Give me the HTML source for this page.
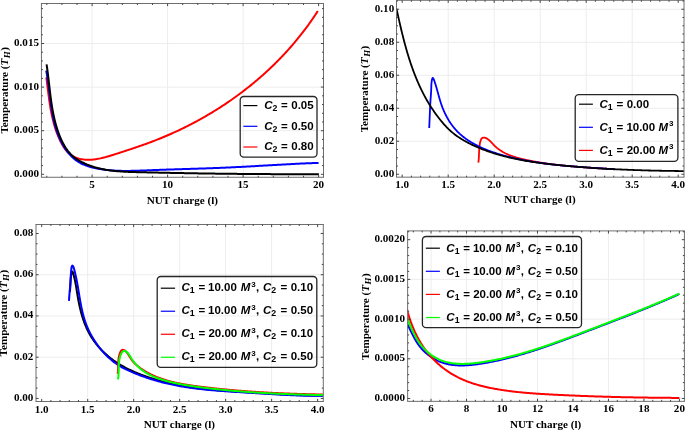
<!DOCTYPE html>
<html><head><meta charset="utf-8"><style>
html,body{margin:0;padding:0;background:#fff;}
svg{display:block;will-change:transform;}
text{font-family:"Liberation Serif", serif;font-weight:bold;fill:#000;}
text.lg{font-family:"Liberation Sans", sans-serif;font-size:11.5px;}
</style></head><body>
<svg width="685" height="430" viewBox="0 0 685 430">
<rect width="685" height="430" fill="#fff"/>
<clipPath id="c1"><rect x="41.45" y="3.50" width="282.05" height="173.77"/></clipPath>
<path d="M92.10,3.50V177.27M167.60,3.50V177.27M243.10,3.50V177.27M41.45,130.71H323.50M41.45,87.10H323.50M41.45,43.49H323.50" stroke="#ededed" stroke-width="1" fill="none"/>
<g clip-path="url(#c1)" fill="none" stroke-linejoin="round" stroke-linecap="butt">
<path d="M46.33,77.41 L46.50,78.68 L46.67,79.95 L46.83,81.22 L46.99,82.49 L47.15,83.76 L47.31,85.03 L47.46,86.30 L47.62,87.58 L47.77,88.85 L47.93,90.12 L48.09,91.39 L48.25,92.66 L48.41,93.93 L48.57,95.20 L48.74,96.47 L48.91,97.74 L49.08,99.01 L49.26,100.27 L49.44,101.54 L49.63,102.80 L49.82,104.06 L50.02,105.33 L50.22,106.59 L50.43,107.85 L50.65,109.10 L50.88,110.36 L51.11,111.61 L51.35,112.87 L51.60,114.12 L51.87,115.36 L52.14,116.61 L52.42,117.86 L52.71,119.10 L53.01,120.34 L53.33,121.58 L53.65,122.81 L53.99,124.04 L54.34,125.27 L54.71,126.50 L55.09,127.72 L55.48,128.94 L55.89,130.16 L56.32,131.38 L56.76,132.59 L57.21,133.80 L57.68,135.00 L58.17,136.21 L58.68,137.41 L59.20,138.60 L59.75,139.79 L60.31,140.98 L60.89,142.15 L61.50,143.32 L62.13,144.46 L62.78,145.59 L63.46,146.69 L64.17,147.77 L64.91,148.82 L65.68,149.84 L66.49,150.82 L67.32,151.75 L68.20,152.65 L69.11,153.50 L70.06,154.29 L71.05,155.04 L72.08,155.72 L73.15,156.35 L74.26,156.92 L75.42,157.42 L76.60,157.87 L77.81,158.27 L79.04,158.61 L80.28,158.91 L81.54,159.15 L82.81,159.36 L84.08,159.51 L85.35,159.63 L86.62,159.70 L87.89,159.74 L89.15,159.74 L90.42,159.71 L91.68,159.64 L92.94,159.54 L94.20,159.41 L95.46,159.25 L96.71,159.07 L97.97,158.86 L99.22,158.62 L100.48,158.36 L101.73,158.09 L102.98,157.79 L104.22,157.48 L105.47,157.15 L106.72,156.80 L107.96,156.45 L109.20,156.08 L110.44,155.70 L111.68,155.32 L112.92,154.93 L114.16,154.53 L115.39,154.13 L116.62,153.73 L117.86,153.33 L119.09,152.94 L120.32,152.54 L121.54,152.14 L122.77,151.74 L123.99,151.34 L125.22,150.94 L126.44,150.54 L127.66,150.14 L128.88,149.74 L130.10,149.34 L131.31,148.94 L132.53,148.53 L133.74,148.12 L134.95,147.72 L136.16,147.31 L137.37,146.90 L138.58,146.48 L139.78,146.07 L140.99,145.65 L142.19,145.23 L143.39,144.80 L144.60,144.37 L145.79,143.94 L146.99,143.51 L148.19,143.07 L149.38,142.63 L150.58,142.19 L151.77,141.74 L152.96,141.29 L154.15,140.83 L155.34,140.37 L156.53,139.91 L157.71,139.44 L158.90,138.96 L160.08,138.49 L161.26,138.00 L162.44,137.52 L163.62,137.03 L164.80,136.53 L165.97,136.04 L167.15,135.53 L168.32,135.03 L169.49,134.52 L170.66,134.00 L171.83,133.48 L172.99,132.96 L174.16,132.43 L175.32,131.90 L176.48,131.37 L177.64,130.83 L178.80,130.28 L179.95,129.73 L181.11,129.18 L182.26,128.63 L183.41,128.07 L184.56,127.50 L185.70,126.94 L186.85,126.36 L187.99,125.79 L189.13,125.21 L190.27,124.62 L191.41,124.04 L192.54,123.44 L193.67,122.85 L194.80,122.25 L195.93,121.64 L197.06,121.04 L198.18,120.42 L199.31,119.81 L200.43,119.19 L201.54,118.56 L202.66,117.94 L203.77,117.30 L204.88,116.67 L205.99,116.03 L207.10,115.38 L208.21,114.74 L209.31,114.08 L210.41,113.43 L211.51,112.77 L212.60,112.11 L213.69,111.44 L214.79,110.77 L215.87,110.09 L216.96,109.41 L218.04,108.73 L219.12,108.04 L220.20,107.35 L221.28,106.66 L222.35,105.96 L223.42,105.26 L224.49,104.55 L225.56,103.84 L226.62,103.13 L227.68,102.41 L228.74,101.69 L229.79,100.96 L230.85,100.23 L231.90,99.50 L232.94,98.76 L233.99,98.02 L235.03,97.27 L236.07,96.53 L237.11,95.77 L238.14,95.02 L239.17,94.26 L240.20,93.49 L241.22,92.73 L242.24,91.96 L243.26,91.18 L244.28,90.40 L245.29,89.62 L246.30,88.83 L247.31,88.04 L248.31,87.25 L249.31,86.45 L250.31,85.65 L251.31,84.85 L252.30,84.04 L253.29,83.22 L254.27,82.41 L255.26,81.59 L256.23,80.76 L257.21,79.94 L258.18,79.11 L259.15,78.27 L260.12,77.43 L261.08,76.59 L262.04,75.74 L263.00,74.90 L263.95,74.04 L264.90,73.19 L265.85,72.33 L266.79,71.46 L267.73,70.59 L268.67,69.72 L269.60,68.85 L270.53,67.97 L271.46,67.09 L272.38,66.20 L273.30,65.31 L274.21,64.42 L275.12,63.52 L276.03,62.62 L276.94,61.72 L277.84,60.81 L278.73,59.90 L279.63,58.98 L280.52,58.07 L281.40,57.14 L282.29,56.22 L283.17,55.29 L284.04,54.36 L284.91,53.42 L285.78,52.48 L286.64,51.54 L287.50,50.59 L288.36,49.64 L289.21,48.69 L290.06,47.73 L290.90,46.77 L291.74,45.81 L292.58,44.84 L293.41,43.87 L294.24,42.89 L295.06,41.92 L295.88,40.94 L296.70,39.95 L297.51,38.96 L298.32,37.97 L299.12,36.97 L299.92,35.98 L300.72,34.97 L301.51,33.97 L302.30,32.96 L303.08,31.95 L303.86,30.93 L304.63,29.91 L305.40,28.89 L306.17,27.86 L306.93,26.83 L307.69,25.80 L308.44,24.76 L309.19,23.72 L309.94,22.68 L310.67,21.63 L311.41,20.58 L312.14,19.53 L312.87,18.47 L313.59,17.41 L314.31,16.35 L315.02,15.28 L315.73,14.21 L316.43,13.14 L317.13,12.06 L317.83,10.98" stroke="#ff0000" stroke-width="2.0"/>
<path d="M46.22,70.65 L46.42,71.74 L46.62,72.83 L46.81,73.93 L46.99,75.03 L47.17,76.13 L47.35,77.24 L47.52,78.35 L47.68,79.46 L47.84,80.58 L48.00,81.70 L48.15,82.82 L48.30,83.94 L48.45,85.07 L48.59,86.20 L48.74,87.33 L48.88,88.47 L49.02,89.60 L49.16,90.74 L49.30,91.88 L49.44,93.02 L49.58,94.16 L49.73,95.30 L49.87,96.44 L50.01,97.58 L50.16,98.73 L50.31,99.87 L50.46,101.01 L50.61,102.16 L50.77,103.30 L50.93,104.44 L51.10,105.59 L51.26,106.73 L51.44,107.87 L51.62,109.01 L51.81,110.15 L52.00,111.28 L52.20,112.42 L52.40,113.55 L52.61,114.68 L52.83,115.81 L53.06,116.94 L53.30,118.07 L53.54,119.19 L53.79,120.31 L54.06,121.43 L54.33,122.54 L54.61,123.65 L54.91,124.76 L55.21,125.86 L55.53,126.96 L55.85,128.06 L56.19,129.15 L56.54,130.24 L56.91,131.32 L57.29,132.40 L57.68,133.48 L58.08,134.55 L58.50,135.61 L58.94,136.67 L59.39,137.72 L59.85,138.77 L60.33,139.82 L60.83,140.85 L61.34,141.88 L61.87,142.91 L62.42,143.92 L62.98,144.93 L63.56,145.92 L64.16,146.91 L64.77,147.88 L65.40,148.84 L66.05,149.78 L66.72,150.71 L67.41,151.63 L68.11,152.52 L68.83,153.40 L69.57,154.26 L70.33,155.10 L71.10,155.92 L71.90,156.71 L72.71,157.49 L73.54,158.24 L74.39,158.96 L75.26,159.66 L76.15,160.33 L77.06,160.97 L77.98,161.58 L78.93,162.17 L79.89,162.73 L80.88,163.25 L81.88,163.76 L82.89,164.23 L83.92,164.68 L84.96,165.11 L86.01,165.52 L87.08,165.90 L88.16,166.26 L89.24,166.60 L90.34,166.92 L91.44,167.23 L92.55,167.51 L93.67,167.78 L94.79,168.04 L95.92,168.28 L97.04,168.50 L98.17,168.71 L99.30,168.92 L100.44,169.10 L101.57,169.28 L102.70,169.45 L103.84,169.61 L104.98,169.75 L106.11,169.89 L107.25,170.01 L108.39,170.13 L109.53,170.24 L110.67,170.34 L111.81,170.42 L112.95,170.50 L114.10,170.58 L115.24,170.64 L116.38,170.70 L117.53,170.75 L118.67,170.79 L119.82,170.82 L120.96,170.85 L122.11,170.88 L123.26,170.89 L124.40,170.90 L125.55,170.91 L126.70,170.91 L127.85,170.90 L129.00,170.89 L130.14,170.88 L131.29,170.86 L132.44,170.84 L133.59,170.81 L134.74,170.78 L135.89,170.75 L137.04,170.72 L138.19,170.68 L139.34,170.64 L140.49,170.60 L141.64,170.56 L142.78,170.51 L143.93,170.47 L145.08,170.42 L146.23,170.38 L147.38,170.33 L148.53,170.28 L149.67,170.24 L150.82,170.19 L151.97,170.15 L153.11,170.10 L154.26,170.06 L155.41,170.02 L156.55,169.97 L157.70,169.93 L158.84,169.89 L159.99,169.85 L161.13,169.81 L162.27,169.77 L163.42,169.73 L164.56,169.69 L165.70,169.65 L166.85,169.62 L167.99,169.58 L169.13,169.54 L170.27,169.50 L171.42,169.47 L172.56,169.43 L173.70,169.39 L174.84,169.36 L175.98,169.32 L177.12,169.29 L178.26,169.25 L179.40,169.22 L180.54,169.18 L181.68,169.14 L182.82,169.11 L183.96,169.07 L185.10,169.04 L186.24,169.00 L187.38,168.97 L188.52,168.93 L189.66,168.90 L190.80,168.86 L191.94,168.83 L193.08,168.79 L194.22,168.76 L195.36,168.72 L196.49,168.68 L197.63,168.65 L198.77,168.61 L199.91,168.57 L201.05,168.54 L202.19,168.50 L203.33,168.46 L204.46,168.42 L205.60,168.38 L206.74,168.35 L207.88,168.31 L209.02,168.27 L210.16,168.23 L211.30,168.18 L212.44,168.14 L213.57,168.10 L214.71,168.06 L215.85,168.01 L216.99,167.97 L218.13,167.93 L219.27,167.88 L220.41,167.83 L221.55,167.79 L222.69,167.74 L223.83,167.69 L224.97,167.64 L226.11,167.59 L227.25,167.54 L228.39,167.49 L229.53,167.44 L230.67,167.39 L231.81,167.33 L232.95,167.28 L234.09,167.22 L235.24,167.17 L236.38,167.11 L237.52,167.05 L238.66,166.99 L239.80,166.94 L240.95,166.88 L242.09,166.82 L243.23,166.76 L244.37,166.69 L245.51,166.63 L246.66,166.57 L247.80,166.51 L248.94,166.45 L250.08,166.38 L251.23,166.32 L252.37,166.26 L253.51,166.19 L254.66,166.13 L255.80,166.06 L256.94,166.00 L258.09,165.93 L259.23,165.87 L260.37,165.80 L261.52,165.74 L262.66,165.67 L263.80,165.60 L264.94,165.54 L266.09,165.47 L267.23,165.41 L268.37,165.34 L269.52,165.28 L270.66,165.21 L271.80,165.14 L272.95,165.08 L274.09,165.01 L275.23,164.95 L276.38,164.88 L277.52,164.82 L278.66,164.76 L279.80,164.69 L280.95,164.63 L282.09,164.57 L283.23,164.50 L284.37,164.44 L285.52,164.38 L286.66,164.32 L287.80,164.26 L288.94,164.20 L290.09,164.14 L291.23,164.08 L292.37,164.02 L293.51,163.96 L294.65,163.90 L295.79,163.84 L296.93,163.79 L298.08,163.73 L299.22,163.68 L300.36,163.62 L301.50,163.57 L302.64,163.52 L303.78,163.47 L304.92,163.42 L306.06,163.37 L307.20,163.32 L308.34,163.27 L309.48,163.22 L310.62,163.18 L311.75,163.13 L312.89,163.09 L314.03,163.05 L315.17,163.01 L316.31,162.97 L317.44,162.93 L318.58,162.89" stroke="#0000ff" stroke-width="2.0"/>
<path d="M46.58,64.43 L46.75,65.57 L46.92,66.71 L47.09,67.85 L47.25,69.00 L47.41,70.14 L47.56,71.29 L47.71,72.44 L47.86,73.59 L48.00,74.73 L48.14,75.88 L48.28,77.03 L48.42,78.18 L48.55,79.33 L48.69,80.49 L48.82,81.64 L48.95,82.79 L49.08,83.94 L49.22,85.09 L49.35,86.25 L49.48,87.40 L49.61,88.55 L49.75,89.70 L49.88,90.85 L50.02,92.01 L50.15,93.16 L50.29,94.31 L50.44,95.46 L50.58,96.61 L50.73,97.76 L50.88,98.91 L51.04,100.06 L51.20,101.21 L51.36,102.35 L51.53,103.50 L51.70,104.64 L51.88,105.79 L52.07,106.93 L52.26,108.07 L52.45,109.21 L52.65,110.35 L52.86,111.49 L53.08,112.63 L53.30,113.76 L53.53,114.90 L53.77,116.03 L54.01,117.16 L54.27,118.29 L54.53,119.42 L54.80,120.54 L55.09,121.67 L55.38,122.79 L55.68,123.91 L55.99,125.03 L56.31,126.14 L56.64,127.26 L56.99,128.37 L57.34,129.48 L57.71,130.58 L58.09,131.69 L58.48,132.79 L58.88,133.89 L59.30,134.99 L59.73,136.08 L60.17,137.17 L60.63,138.25 L61.11,139.33 L61.60,140.39 L62.10,141.45 L62.63,142.50 L63.17,143.54 L63.73,144.56 L64.30,145.57 L64.90,146.57 L65.52,147.55 L66.16,148.51 L66.82,149.46 L67.50,150.38 L68.21,151.29 L68.94,152.17 L69.69,153.04 L70.46,153.88 L71.26,154.69 L72.09,155.48 L72.94,156.24 L73.82,156.98 L74.73,157.69 L75.65,158.38 L76.60,159.03 L77.56,159.67 L78.55,160.28 L79.54,160.87 L80.55,161.44 L81.58,161.99 L82.61,162.51 L83.65,163.02 L84.69,163.51 L85.75,163.97 L86.80,164.43 L87.86,164.86 L88.93,165.28 L90.01,165.68 L91.08,166.06 L92.17,166.43 L93.25,166.78 L94.34,167.11 L95.44,167.43 L96.54,167.74 L97.65,168.03 L98.75,168.31 L99.87,168.57 L100.98,168.83 L102.10,169.06 L103.23,169.29 L104.35,169.51 L105.48,169.71 L106.62,169.90 L107.76,170.08 L108.89,170.25 L110.04,170.41 L111.18,170.56 L112.33,170.70 L113.48,170.83 L114.63,170.96 L115.79,171.07 L116.95,171.18 L118.10,171.28 L119.26,171.37 L120.43,171.45 L121.59,171.53 L122.76,171.61 L123.92,171.67 L125.09,171.73 L126.26,171.79 L127.43,171.84 L128.60,171.89 L129.77,171.94 L130.94,171.98 L132.12,172.02 L133.29,172.05 L134.46,172.09 L135.64,172.12 L136.81,172.15 L137.98,172.18 L139.16,172.20 L140.33,172.23 L141.50,172.26 L142.67,172.28 L143.84,172.31 L145.01,172.34 L146.18,172.36 L147.35,172.39 L148.52,172.42 L149.69,172.44 L150.86,172.47 L152.02,172.49 L153.19,172.52 L154.36,172.55 L155.52,172.57 L156.69,172.60 L157.86,172.62 L159.02,172.64 L160.19,172.67 L161.35,172.69 L162.51,172.72 L163.68,172.74 L164.84,172.77 L166.00,172.79 L167.17,172.81 L168.33,172.84 L169.49,172.86 L170.65,172.88 L171.81,172.90 L172.97,172.93 L174.13,172.95 L175.29,172.97 L176.45,172.99 L177.61,173.01 L178.77,173.04 L179.93,173.06 L181.09,173.08 L182.25,173.10 L183.41,173.12 L184.57,173.14 L185.72,173.16 L186.88,173.18 L188.04,173.20 L189.19,173.22 L190.35,173.24 L191.51,173.26 L192.66,173.28 L193.82,173.30 L194.98,173.32 L196.13,173.34 L197.29,173.36 L198.44,173.38 L199.60,173.39 L200.75,173.41 L201.91,173.43 L203.06,173.45 L204.22,173.47 L205.37,173.48 L206.53,173.50 L207.68,173.52 L208.83,173.53 L209.99,173.55 L211.14,173.57 L212.30,173.58 L213.45,173.60 L214.60,173.61 L215.76,173.63 L216.91,173.64 L218.06,173.66 L219.22,173.67 L220.37,173.69 L221.52,173.70 L222.68,173.72 L223.83,173.73 L224.98,173.75 L226.13,173.76 L227.29,173.77 L228.44,173.79 L229.59,173.80 L230.75,173.81 L231.90,173.83 L233.05,173.84 L234.21,173.85 L235.36,173.86 L236.51,173.87 L237.66,173.89 L238.82,173.90 L239.97,173.91 L241.12,173.92 L242.28,173.93 L243.43,173.94 L244.58,173.95 L245.74,173.96 L246.89,173.97 L248.05,173.98 L249.20,173.99 L250.35,174.00 L251.51,174.01 L252.66,174.02 L253.82,174.03 L254.97,174.04 L256.12,174.04 L257.28,174.05 L258.43,174.06 L259.59,174.07 L260.74,174.07 L261.90,174.08 L263.06,174.09 L264.21,174.09 L265.37,174.10 L266.52,174.11 L267.68,174.11 L268.84,174.12 L269.99,174.12 L271.15,174.13 L272.31,174.13 L273.47,174.14 L274.62,174.14 L275.78,174.15 L276.94,174.15 L278.10,174.16 L279.26,174.16 L280.42,174.16 L281.58,174.17 L282.74,174.17 L283.90,174.17 L285.06,174.18 L286.22,174.18 L287.38,174.18 L288.54,174.18 L289.70,174.18 L290.86,174.18 L292.02,174.19 L293.19,174.19 L294.35,174.19 L295.51,174.19 L296.68,174.19 L297.84,174.19 L299.01,174.19 L300.17,174.19 L301.34,174.19 L302.50,174.19 L303.67,174.18 L304.83,174.18 L306.00,174.18 L307.17,174.18 L308.34,174.18 L309.51,174.17 L310.67,174.17 L311.84,174.17 L313.01,174.17 L314.18,174.16 L315.35,174.16 L316.52,174.15 L317.70,174.15 L318.87,174.15" stroke="#000" stroke-width="2.0"/>
</g>
<path d="M40.95,3.50H324.00M40.95,177.27H324.00M41.45,3.50V177.27M323.50,3.50V177.27" stroke="#6e6e6e" stroke-width="1.0" fill="none"/>
<path d="M92.10,177.27v-2.60M92.10,3.50v2.60M167.60,177.27v-2.60M167.60,3.50v2.60M243.10,177.27v-2.60M243.10,3.50v2.60M318.60,177.27v-2.60M318.60,3.50v2.60M46.80,177.27v-1.50M46.80,3.50v1.50M61.90,177.27v-1.50M61.90,3.50v1.50M77.00,177.27v-1.50M77.00,3.50v1.50M107.20,177.27v-1.50M107.20,3.50v1.50M122.30,177.27v-1.50M122.30,3.50v1.50M137.40,177.27v-1.50M137.40,3.50v1.50M152.50,177.27v-1.50M152.50,3.50v1.50M182.70,177.27v-1.50M182.70,3.50v1.50M197.80,177.27v-1.50M197.80,3.50v1.50M212.90,177.27v-1.50M212.90,3.50v1.50M228.00,177.27v-1.50M228.00,3.50v1.50M258.20,177.27v-1.50M258.20,3.50v1.50M273.30,177.27v-1.50M273.30,3.50v1.50M288.40,177.27v-1.50M288.40,3.50v1.50M303.50,177.27v-1.50M303.50,3.50v1.50M41.45,174.32h2.60M323.50,174.32h-2.60M41.45,130.71h2.60M323.50,130.71h-2.60M41.45,87.10h2.60M323.50,87.10h-2.60M41.45,43.49h2.60M323.50,43.49h-2.60M41.45,165.60h1.50M323.50,165.60h-1.50M41.45,156.88h1.50M323.50,156.88h-1.50M41.45,148.15h1.50M323.50,148.15h-1.50M41.45,139.43h1.50M323.50,139.43h-1.50M41.45,121.99h1.50M323.50,121.99h-1.50M41.45,113.27h1.50M323.50,113.27h-1.50M41.45,104.54h1.50M323.50,104.54h-1.50M41.45,95.82h1.50M323.50,95.82h-1.50M41.45,78.38h1.50M323.50,78.38h-1.50M41.45,69.66h1.50M323.50,69.66h-1.50M41.45,60.93h1.50M323.50,60.93h-1.50M41.45,52.21h1.50M323.50,52.21h-1.50M41.45,34.77h1.50M323.50,34.77h-1.50M41.45,26.05h1.50M323.50,26.05h-1.50M41.45,17.32h1.50M323.50,17.32h-1.50M41.45,8.60h1.50M323.50,8.60h-1.50" stroke="#333" stroke-width="0.9" fill="none"/>
<text x="92.10" y="187.70" text-anchor="middle" font-size="11.1">5</text>
<text x="167.60" y="187.70" text-anchor="middle" font-size="11.1">10</text>
<text x="243.10" y="187.70" text-anchor="middle" font-size="11.1">15</text>
<text x="318.60" y="187.70" text-anchor="middle" font-size="11.1">20</text>
<text x="39.00" y="176.77" text-anchor="end" font-size="11.1">0.000</text>
<text x="39.00" y="133.16" text-anchor="end" font-size="11.1">0.005</text>
<text x="39.00" y="89.55" text-anchor="end" font-size="11.1">0.010</text>
<text x="39.00" y="45.94" text-anchor="end" font-size="11.1">0.015</text>
<text x="182.35" y="203.60" text-anchor="middle" font-size="11.1">NUT charge (l)</text>
<text transform="translate(7.60,90.30) rotate(-90)" text-anchor="middle" font-size="11.1">Temperature (<tspan font-style="italic">T</tspan><tspan font-style="italic" font-size="8.9" dx="0.6" dy="2.2">H</tspan><tspan dx="0.5" dy="-2.2">)</tspan></text>
<rect x="240.20" y="96.50" width="76.80" height="60.60" rx="3.6" ry="3.6" fill="none" stroke="#262626" stroke-width="1.3"/>
<line x1="243.40" y1="105.60" x2="257.40" y2="105.60" stroke="#000" stroke-width="1.2"/>
<text class="lg" y="108.90"><tspan x="264.14" font-style="italic">C</tspan><tspan x="272.44" font-size="8.80" dy="2.00">2</tspan><tspan x="281.12" dy="-2.00">=</tspan><tspan x="291.25">0.05</tspan></text>
<line x1="243.40" y1="126.30" x2="257.40" y2="126.30" stroke="#0000ff" stroke-width="1.2"/>
<text class="lg" y="129.60"><tspan x="264.14" font-style="italic">C</tspan><tspan x="272.44" font-size="8.80" dy="2.00">2</tspan><tspan x="281.12" dy="-2.00">=</tspan><tspan x="291.25">0.50</tspan></text>
<line x1="243.40" y1="147.00" x2="257.40" y2="147.00" stroke="#ff0000" stroke-width="1.2"/>
<text class="lg" y="150.30"><tspan x="264.14" font-style="italic">C</tspan><tspan x="272.44" font-size="8.80" dy="2.00">2</tspan><tspan x="281.12" dy="-2.00">=</tspan><tspan x="291.25">0.80</tspan></text>
<clipPath id="c2"><rect x="396.50" y="0.30" width="287.50" height="176.86"/></clipPath>
<path d="M448.20,0.30V177.16M494.20,0.30V177.16M540.20,0.30V177.16M586.20,0.30V177.16M632.20,0.30V177.16M396.50,141.26H684.00M396.50,108.26H684.00M396.50,75.26H684.00M396.50,42.26H684.00M396.50,9.26H684.00" stroke="#ededed" stroke-width="1" fill="none"/>
<g clip-path="url(#c2)" fill="none" stroke-linejoin="round" stroke-linecap="butt">
<path d="M478.37,162.61 L478.45,162.01 L478.52,161.42 L478.58,160.84 L478.64,160.26 L478.69,159.70 L478.74,159.14 L478.78,158.59 L478.81,158.04 L478.84,157.50 L478.87,156.97 L478.90,156.44 L478.92,155.91 L478.94,155.38 L478.96,154.86 L478.98,154.33 L479.00,153.81 L479.02,153.29 L479.04,152.76 L479.06,152.24 L479.09,151.71 L479.11,151.18 L479.14,150.64 L479.17,150.10 L479.21,149.56 L479.25,149.01 L479.29,148.45 L479.34,147.89 L479.39,147.32 L479.45,146.74 L479.52,146.15 L479.60,145.55 L479.68,144.94 L479.77,144.32 L479.87,143.69 L479.99,143.07 L480.11,142.45 L480.26,141.84 L480.41,141.25 L480.59,140.69 L480.78,140.15 L481.00,139.65 L481.24,139.19 L481.51,138.78 L481.80,138.41 L482.11,138.11 L482.46,137.87 L482.84,137.69 L483.25,137.59 L483.68,137.56 L484.14,137.58 L484.61,137.65 L485.08,137.78 L485.57,137.94 L486.05,138.15 L486.53,138.38 L487.00,138.64 L487.45,138.93 L487.90,139.23 L488.34,139.56 L488.77,139.90 L489.19,140.26 L489.61,140.64 L490.02,141.02 L490.43,141.42 L490.83,141.83 L491.23,142.24 L491.63,142.66 L492.02,143.08 L492.42,143.51 L492.82,143.93 L493.21,144.35 L493.61,144.77 L494.02,145.19 L494.42,145.59 L494.83,145.99 L495.25,146.38 L495.66,146.76 L496.09,147.14 L496.51,147.51 L496.94,147.87 L497.38,148.22 L497.81,148.57 L498.25,148.91 L498.70,149.24 L499.15,149.57 L499.60,149.89 L500.05,150.20 L500.51,150.51 L500.97,150.81 L501.43,151.10 L501.90,151.39 L502.37,151.67 L502.85,151.95 L503.32,152.22 L503.80,152.48 L504.28,152.74 L504.77,153.00 L505.25,153.24 L505.74,153.49 L506.24,153.72 L506.73,153.96 L507.23,154.18 L507.73,154.41 L508.23,154.62 L508.73,154.84 L509.24,155.04 L509.75,155.25 L510.26,155.45 L510.77,155.64 L511.29,155.83 L511.80,156.02 L512.32,156.20 L512.84,156.38 L513.36,156.56 L513.88,156.73 L514.41,156.90 L514.93,157.06 L515.46,157.22 L515.99,157.38 L516.52,157.54 L517.05,157.69 L517.59,157.84 L518.12,157.98 L518.65,158.13 L519.19,158.27 L519.73,158.41 L520.26,158.54 L520.80,158.67 L521.34,158.81 L521.88,158.94 L522.42,159.06 L522.96,159.19 L523.50,159.31 L524.05,159.43 L524.59,159.55 L525.13,159.67 L525.68,159.79 L526.22,159.91 L526.76,160.02 L527.31,160.13 L527.85,160.25 L528.39,160.36 L528.94,160.47 L529.48,160.58 L530.02,160.69 L530.57,160.79 L531.11,160.90 L531.66,161.00 L532.20,161.11 L532.75,161.21 L533.29,161.31 L533.84,161.41 L534.38,161.51 L534.93,161.61 L535.47,161.71 L536.02,161.81 L536.56,161.90 L537.11,162.00 L537.65,162.09 L538.20,162.18 L538.75,162.27 L539.29,162.37 L539.84,162.46 L540.39,162.54 L540.93,162.63 L541.48,162.72 L542.02,162.80 L542.57,162.89 L543.12,162.97 L543.67,163.06 L544.21,163.14 L544.76,163.22 L545.31,163.30 L545.85,163.38 L546.40,163.46 L546.95,163.54 L547.50,163.62 L548.04,163.69 L548.59,163.77 L549.14,163.84 L549.69,163.92 L550.24,163.99 L550.78,164.06 L551.33,164.13 L551.88,164.20 L552.43,164.28 L552.98,164.34 L553.52,164.41 L554.07,164.48 L554.62,164.55 L555.17,164.61 L555.72,164.68 L556.27,164.74 L556.82,164.81 L557.37,164.87 L557.92,164.94 L558.46,165.00 L559.01,165.06 L559.56,165.12 L560.11,165.18 L560.66,165.24 L561.21,165.30 L561.76,165.36 L562.31,165.41 L562.86,165.47 L563.41,165.53 L563.96,165.58 L564.51,165.64 L565.06,165.69 L565.61,165.75 L566.16,165.80 L566.71,165.85 L567.26,165.91 L567.81,165.96 L568.36,166.01 L568.91,166.06 L569.46,166.11 L570.01,166.16 L570.56,166.21 L571.11,166.26 L571.67,166.31 L572.22,166.36 L572.77,166.40 L573.32,166.45 L573.87,166.50 L574.42,166.54 L574.97,166.59 L575.52,166.63 L576.07,166.68 L576.62,166.72 L577.17,166.77 L577.73,166.81 L578.28,166.85 L578.83,166.90 L579.38,166.94 L579.93,166.98 L580.48,167.02 L581.03,167.07 L581.58,167.11 L582.14,167.15 L582.69,167.19 L583.24,167.23 L583.79,167.27 L584.34,167.31 L584.89,167.35 L585.45,167.39 L586.00,167.43 L586.55,167.46 L587.10,167.50 L587.65,167.54 L588.20,167.58 L588.76,167.62 L589.31,167.65 L589.86,167.69 L590.41,167.73 L590.96,167.76 L591.52,167.80 L592.07,167.84 L592.62,167.87 L593.17,167.91 L593.72,167.95 L594.27,167.98 L594.83,168.02 L595.38,168.05 L595.93,168.09 L596.48,168.12 L597.03,168.16 L597.59,168.19 L598.14,168.23 L598.69,168.26 L599.24,168.30 L599.79,168.33 L600.35,168.37 L600.90,168.40 L601.45,168.44 L602.00,168.47 L602.55,168.51 L603.11,168.54 L603.66,168.58 L604.21,168.61 L604.76,168.65 L605.31,168.68 L605.87,168.72 L606.42,168.75 L606.97,168.79 L607.52,168.82 L608.07,168.86 L608.63,168.89 L609.18,168.93 L609.73,168.96 L610.28,169.00 L610.83,169.03 L611.39,169.07 L611.94,169.10 L612.49,169.14 L613.04,169.17 L613.59,169.21 L614.14,169.25 L614.70,169.28" stroke="#ff0000" stroke-width="1.8"/>
<path d="M429.19,128.00 L429.24,127.09 L429.29,126.17 L429.33,125.26 L429.38,124.34 L429.42,123.42 L429.46,122.50 L429.50,121.58 L429.54,120.65 L429.58,119.72 L429.61,118.80 L429.65,117.87 L429.69,116.94 L429.73,116.01 L429.76,115.08 L429.80,114.14 L429.84,113.21 L429.88,112.28 L429.91,111.35 L429.95,110.42 L430.00,109.49 L430.04,108.57 L430.08,107.64 L430.13,106.72 L430.17,105.79 L430.22,104.87 L430.27,103.95 L430.33,103.04 L430.38,102.12 L430.44,101.21 L430.50,100.30 L430.56,99.40 L430.63,98.49 L430.70,97.59 L430.77,96.69 L430.83,95.79 L430.90,94.88 L430.96,93.97 L431.02,93.06 L431.08,92.14 L431.13,91.21 L431.17,90.27 L431.21,89.33 L431.24,88.37 L431.27,87.41 L431.30,86.43 L431.34,85.45 L431.39,84.47 L431.46,83.49 L431.55,82.50 L431.67,81.52 L431.81,80.54 L431.99,79.61 L432.19,78.82 L432.43,78.23 L432.69,77.94 L432.98,78.01 L433.30,78.40 L433.63,79.05 L433.96,79.87 L434.30,80.80 L434.62,81.75 L434.94,82.69 L435.24,83.63 L435.54,84.57 L435.83,85.51 L436.11,86.43 L436.38,87.36 L436.65,88.28 L436.91,89.19 L437.17,90.11 L437.42,91.02 L437.67,91.92 L437.92,92.82 L438.17,93.72 L438.41,94.62 L438.66,95.51 L438.91,96.40 L439.16,97.28 L439.41,98.16 L439.66,99.04 L439.92,99.92 L440.18,100.80 L440.45,101.67 L440.72,102.54 L441.00,103.41 L441.29,104.27 L441.59,105.14 L441.90,106.00 L442.22,106.86 L442.54,107.72 L442.88,108.57 L443.23,109.42 L443.58,110.27 L443.95,111.12 L444.32,111.96 L444.71,112.80 L445.10,113.63 L445.51,114.46 L445.92,115.29 L446.35,116.11 L446.79,116.93 L447.23,117.74 L447.69,118.54 L448.15,119.34 L448.63,120.13 L449.11,120.92 L449.61,121.70 L450.12,122.47 L450.63,123.24 L451.16,124.00 L451.70,124.75 L452.25,125.49 L452.80,126.22 L453.37,126.95 L453.95,127.67 L454.54,128.37 L455.14,129.07 L455.75,129.76 L456.37,130.44 L457.00,131.11 L457.64,131.77 L458.29,132.42 L458.96,133.06 L459.63,133.69 L460.31,134.30 L461.00,134.91 L461.70,135.51 L462.41,136.10 L463.13,136.68 L463.86,137.25 L464.59,137.81 L465.33,138.36 L466.08,138.90 L466.84,139.43 L467.60,139.96 L468.37,140.47 L469.15,140.98 L469.93,141.48 L470.72,141.97 L471.51,142.45 L472.31,142.92 L473.12,143.38 L473.93,143.84 L474.74,144.29 L475.56,144.73 L476.38,145.16 L477.21,145.59 L478.04,146.00 L478.87,146.41 L479.71,146.82 L480.55,147.21 L481.39,147.60 L482.23,147.98 L483.08,148.36 L483.93,148.72 L484.78,149.08 L485.63,149.44 L486.49,149.79 L487.34,150.13 L488.20,150.47 L489.07,150.80 L489.93,151.12 L490.80,151.44 L491.67,151.75 L492.54,152.06 L493.41,152.36 L494.28,152.65 L495.16,152.95 L496.03,153.23 L496.91,153.51 L497.79,153.79 L498.67,154.06 L499.56,154.33 L500.44,154.59 L501.33,154.85 L502.21,155.10 L503.10,155.35 L503.99,155.59 L504.88,155.84 L505.77,156.07 L506.66,156.31 L507.56,156.54 L508.45,156.77 L509.34,156.99 L510.24,157.21 L511.14,157.43 L512.03,157.64 L512.93,157.85 L513.83,158.06 L514.73,158.27 L515.63,158.47 L516.53,158.67 L517.43,158.86 L518.33,159.06 L519.23,159.25 L520.13,159.43 L521.04,159.62 L521.94,159.80 L522.84,159.98 L523.75,160.15 L524.66,160.33 L525.56,160.50 L526.47,160.66 L527.38,160.83 L528.28,160.99 L529.19,161.15 L530.10,161.31 L531.01,161.46 L531.92,161.62 L532.83,161.77 L533.74,161.91 L534.65,162.06 L535.56,162.20 L536.48,162.34 L537.39,162.48 L538.30,162.62 L539.22,162.75 L540.13,162.88 L541.05,163.01 L541.96,163.14 L542.88,163.27 L543.79,163.39 L544.71,163.51 L545.62,163.63 L546.54,163.75 L547.46,163.86 L548.37,163.98 L549.29,164.09 L550.21,164.20 L551.13,164.31 L552.05,164.41 L552.97,164.52 L553.88,164.62 L554.80,164.72 L555.72,164.82 L556.64,164.92 L557.56,165.02 L558.48,165.11 L559.40,165.21 L560.33,165.30 L561.25,165.39 L562.17,165.48 L563.09,165.57 L564.01,165.65 L564.93,165.74 L565.85,165.82 L566.78,165.90 L567.70,165.99 L568.62,166.07 L569.54,166.15 L570.46,166.22 L571.39,166.30 L572.31,166.38 L573.23,166.45 L574.16,166.52 L575.08,166.60 L576.00,166.67 L576.92,166.74 L577.85,166.81 L578.77,166.88 L579.69,166.95 L580.62,167.02 L581.54,167.08 L582.46,167.15 L583.38,167.22 L584.31,167.28 L585.23,167.35 L586.15,167.41 L587.07,167.47 L588.00,167.54 L588.92,167.60 L589.84,167.66 L590.76,167.72 L591.69,167.78 L592.61,167.85 L593.53,167.91 L594.45,167.97 L595.37,168.03 L596.29,168.09 L597.22,168.15 L598.14,168.21 L599.06,168.27 L599.98,168.33 L600.90,168.38 L601.82,168.44 L602.74,168.50 L603.66,168.56 L604.58,168.62 L605.50,168.68 L606.42,168.74 L607.33,168.80 L608.25,168.86 L609.17,168.92 L610.09,168.98 L611.01,169.04 L611.92,169.10 L612.84,169.17 L613.76,169.23 L614.67,169.29" stroke="#0000ff" stroke-width="1.8"/>
<path d="M396.49,8.62 L396.76,9.84 L397.02,11.07 L397.29,12.29 L397.56,13.51 L397.84,14.74 L398.11,15.96 L398.38,17.19 L398.66,18.41 L398.93,19.64 L399.21,20.87 L399.49,22.09 L399.77,23.32 L400.06,24.55 L400.34,25.78 L400.63,27.00 L400.92,28.23 L401.21,29.46 L401.50,30.68 L401.80,31.91 L402.10,33.14 L402.40,34.36 L402.71,35.59 L403.01,36.81 L403.32,38.04 L403.64,39.26 L403.96,40.48 L404.28,41.70 L404.60,42.93 L404.93,44.14 L405.26,45.36 L405.59,46.58 L405.93,47.80 L406.27,49.01 L406.62,50.23 L406.97,51.44 L407.32,52.65 L407.68,53.86 L408.05,55.07 L408.42,56.27 L408.79,57.48 L409.17,58.68 L409.55,59.88 L409.94,61.08 L410.33,62.28 L410.73,63.47 L411.13,64.66 L411.54,65.85 L411.96,67.04 L412.38,68.23 L412.80,69.41 L413.24,70.59 L413.67,71.77 L414.12,72.95 L414.57,74.12 L415.02,75.29 L415.49,76.46 L415.96,77.62 L416.43,78.78 L416.91,79.94 L417.40,81.09 L417.90,82.25 L418.40,83.40 L418.92,84.54 L419.43,85.68 L419.96,86.82 L420.49,87.96 L421.03,89.09 L421.58,90.22 L422.14,91.34 L422.70,92.46 L423.27,93.58 L423.85,94.69 L424.44,95.80 L425.03,96.90 L425.64,98.00 L426.25,99.10 L426.87,100.19 L427.51,101.28 L428.15,102.36 L428.79,103.44 L429.45,104.51 L430.12,105.58 L430.79,106.65 L431.48,107.71 L432.17,108.76 L432.88,109.81 L433.59,110.85 L434.31,111.89 L435.04,112.92 L435.77,113.95 L436.52,114.97 L437.27,115.99 L438.04,117.00 L438.81,118.00 L439.59,118.99 L440.37,119.98 L441.17,120.96 L441.97,121.93 L442.78,122.90 L443.61,123.85 L444.44,124.79 L445.29,125.72 L446.14,126.64 L447.01,127.54 L447.90,128.43 L448.79,129.30 L449.71,130.16 L450.63,131.00 L451.58,131.82 L452.53,132.63 L453.50,133.41 L454.48,134.19 L455.48,134.94 L456.49,135.68 L457.51,136.41 L458.54,137.12 L459.58,137.81 L460.64,138.50 L461.70,139.16 L462.77,139.82 L463.86,140.46 L464.95,141.08 L466.05,141.70 L467.16,142.30 L468.27,142.89 L469.39,143.47 L470.52,144.03 L471.66,144.59 L472.80,145.13 L473.95,145.66 L475.10,146.18 L476.25,146.69 L477.41,147.20 L478.58,147.69 L479.74,148.17 L480.91,148.64 L482.09,149.11 L483.26,149.56 L484.44,150.01 L485.62,150.45 L486.80,150.88 L487.99,151.30 L489.17,151.71 L490.36,152.11 L491.56,152.51 L492.75,152.90 L493.95,153.28 L495.15,153.65 L496.35,154.02 L497.55,154.38 L498.76,154.73 L499.97,155.07 L501.18,155.40 L502.39,155.73 L503.60,156.06 L504.82,156.37 L506.03,156.68 L507.25,156.98 L508.48,157.27 L509.70,157.56 L510.92,157.85 L512.15,158.12 L513.38,158.39 L514.61,158.66 L515.84,158.92 L517.07,159.17 L518.30,159.42 L519.54,159.66 L520.78,159.89 L522.01,160.12 L523.25,160.35 L524.49,160.57 L525.73,160.79 L526.98,161.00 L528.22,161.20 L529.47,161.41 L530.71,161.60 L531.96,161.80 L533.20,161.99 L534.45,162.17 L535.70,162.35 L536.95,162.53 L538.20,162.70 L539.45,162.87 L540.71,163.04 L541.96,163.20 L543.21,163.36 L544.46,163.52 L545.72,163.67 L546.97,163.82 L548.23,163.96 L549.48,164.11 L550.74,164.25 L551.99,164.39 L553.25,164.53 L554.51,164.66 L555.76,164.79 L557.02,164.92 L558.27,165.05 L559.53,165.18 L560.79,165.30 L562.04,165.43 L563.30,165.55 L564.55,165.67 L565.81,165.78 L567.07,165.90 L568.32,166.02 L569.58,166.13 L570.83,166.24 L572.09,166.35 L573.34,166.46 L574.60,166.56 L575.85,166.67 L577.11,166.77 L578.36,166.88 L579.62,166.98 L580.87,167.07 L582.13,167.17 L583.38,167.27 L584.64,167.36 L585.89,167.46 L587.15,167.55 L588.40,167.64 L589.66,167.73 L590.91,167.81 L592.17,167.90 L593.42,167.98 L594.68,168.07 L595.93,168.15 L597.19,168.23 L598.44,168.31 L599.70,168.39 L600.95,168.46 L602.21,168.54 L603.46,168.61 L604.72,168.68 L605.97,168.75 L607.23,168.82 L608.48,168.89 L609.74,168.96 L611.00,169.02 L612.25,169.09 L613.51,169.15 L614.76,169.21 L616.02,169.28 L617.27,169.34 L618.53,169.39 L619.79,169.45 L621.04,169.51 L622.30,169.56 L623.55,169.62 L624.81,169.67 L626.07,169.72 L627.32,169.77 L628.58,169.82 L629.84,169.87 L631.09,169.92 L632.35,169.96 L633.61,170.01 L634.86,170.05 L636.12,170.10 L637.38,170.14 L638.64,170.18 L639.89,170.22 L641.15,170.26 L642.41,170.30 L643.67,170.34 L644.93,170.37 L646.18,170.41 L647.44,170.44 L648.70,170.48 L649.96,170.51 L651.22,170.54 L652.48,170.57 L653.74,170.60 L655.00,170.63 L656.26,170.66 L657.52,170.69 L658.78,170.71 L660.04,170.74 L661.30,170.76 L662.56,170.79 L663.82,170.81 L665.08,170.83 L666.34,170.85 L667.61,170.88 L668.87,170.90 L670.13,170.92 L671.39,170.93 L672.66,170.95 L673.92,170.97 L675.18,170.99 L676.44,171.00 L677.71,171.02 L678.97,171.03 L680.24,171.05 L681.50,171.06 L682.77,171.07 L684.03,171.09" stroke="#000" stroke-width="1.8"/>
</g>
<path d="M396.00,0.30H684.50M396.00,177.16H684.50M396.50,0.30V177.16M684.00,0.30V177.16" stroke="#6e6e6e" stroke-width="1.0" fill="none"/>
<path d="M402.20,177.16v-2.60M402.20,0.30v2.60M448.20,177.16v-2.60M448.20,0.30v2.60M494.20,177.16v-2.60M494.20,0.30v2.60M540.20,177.16v-2.60M540.20,0.30v2.60M586.20,177.16v-2.60M586.20,0.30v2.60M632.20,177.16v-2.60M632.20,0.30v2.60M678.20,177.16v-2.60M678.20,0.30v2.60M411.40,177.16v-1.50M411.40,0.30v1.50M420.60,177.16v-1.50M420.60,0.30v1.50M429.80,177.16v-1.50M429.80,0.30v1.50M439.00,177.16v-1.50M439.00,0.30v1.50M457.40,177.16v-1.50M457.40,0.30v1.50M466.60,177.16v-1.50M466.60,0.30v1.50M475.80,177.16v-1.50M475.80,0.30v1.50M485.00,177.16v-1.50M485.00,0.30v1.50M503.40,177.16v-1.50M503.40,0.30v1.50M512.60,177.16v-1.50M512.60,0.30v1.50M521.80,177.16v-1.50M521.80,0.30v1.50M531.00,177.16v-1.50M531.00,0.30v1.50M549.40,177.16v-1.50M549.40,0.30v1.50M558.60,177.16v-1.50M558.60,0.30v1.50M567.80,177.16v-1.50M567.80,0.30v1.50M577.00,177.16v-1.50M577.00,0.30v1.50M595.40,177.16v-1.50M595.40,0.30v1.50M604.60,177.16v-1.50M604.60,0.30v1.50M613.80,177.16v-1.50M613.80,0.30v1.50M623.00,177.16v-1.50M623.00,0.30v1.50M641.40,177.16v-1.50M641.40,0.30v1.50M650.60,177.16v-1.50M650.60,0.30v1.50M659.80,177.16v-1.50M659.80,0.30v1.50M669.00,177.16v-1.50M669.00,0.30v1.50M396.50,174.26h2.60M684.00,174.26h-2.60M396.50,141.26h2.60M684.00,141.26h-2.60M396.50,108.26h2.60M684.00,108.26h-2.60M396.50,75.26h2.60M684.00,75.26h-2.60M396.50,42.26h2.60M684.00,42.26h-2.60M396.50,9.26h2.60M684.00,9.26h-2.60M396.50,166.01h1.50M684.00,166.01h-1.50M396.50,157.76h1.50M684.00,157.76h-1.50M396.50,149.51h1.50M684.00,149.51h-1.50M396.50,133.01h1.50M684.00,133.01h-1.50M396.50,124.76h1.50M684.00,124.76h-1.50M396.50,116.51h1.50M684.00,116.51h-1.50M396.50,100.01h1.50M684.00,100.01h-1.50M396.50,91.76h1.50M684.00,91.76h-1.50M396.50,83.51h1.50M684.00,83.51h-1.50M396.50,67.01h1.50M684.00,67.01h-1.50M396.50,58.76h1.50M684.00,58.76h-1.50M396.50,50.51h1.50M684.00,50.51h-1.50M396.50,34.01h1.50M684.00,34.01h-1.50M396.50,25.76h1.50M684.00,25.76h-1.50M396.50,17.51h1.50M684.00,17.51h-1.50M396.50,1.01h1.50M684.00,1.01h-1.50" stroke="#333" stroke-width="0.9" fill="none"/>
<text x="402.20" y="187.80" text-anchor="middle" font-size="11.1">1.0</text>
<text x="448.20" y="187.80" text-anchor="middle" font-size="11.1">1.5</text>
<text x="494.20" y="187.80" text-anchor="middle" font-size="11.1">2.0</text>
<text x="540.20" y="187.80" text-anchor="middle" font-size="11.1">2.5</text>
<text x="586.20" y="187.80" text-anchor="middle" font-size="11.1">3.0</text>
<text x="632.20" y="187.80" text-anchor="middle" font-size="11.1">3.5</text>
<text x="678.20" y="187.80" text-anchor="middle" font-size="11.1">4.0</text>
<text x="394.20" y="176.71" text-anchor="end" font-size="11.1">0.00</text>
<text x="394.20" y="143.71" text-anchor="end" font-size="11.1">0.02</text>
<text x="394.20" y="110.71" text-anchor="end" font-size="11.1">0.04</text>
<text x="394.20" y="77.71" text-anchor="end" font-size="11.1">0.06</text>
<text x="394.20" y="44.71" text-anchor="end" font-size="11.1">0.08</text>
<text x="394.20" y="11.71" text-anchor="end" font-size="11.1">0.10</text>
<text x="540.00" y="203.40" text-anchor="middle" font-size="11.1">NUT charge (l)</text>
<text transform="translate(367.80,89.00) rotate(-90)" text-anchor="middle" font-size="11.1">Temperature (<tspan font-style="italic">T</tspan><tspan font-style="italic" font-size="8.9" dx="0.6" dy="2.2">H</tspan><tspan dx="0.5" dy="-2.2">)</tspan></text>
<rect x="575.20" y="94.70" width="102.70" height="66.60" rx="3.6" ry="3.6" fill="none" stroke="#262626" stroke-width="1.3"/>
<line x1="579.00" y1="104.20" x2="592.90" y2="104.20" stroke="#000" stroke-width="1.2"/>
<text class="lg" y="107.90"><tspan x="599.54" font-style="italic">C</tspan><tspan x="607.84" font-size="8.80" dy="2.00">1</tspan><tspan x="616.52" dy="-2.00">=</tspan><tspan x="626.65">0.00</tspan></text>
<line x1="579.00" y1="127.30" x2="592.90" y2="127.30" stroke="#0000ff" stroke-width="1.2"/>
<text class="lg" y="131.00"><tspan x="599.54" font-style="italic">C</tspan><tspan x="607.84" font-size="8.80" dy="2.00">1</tspan><tspan x="616.52" dy="-2.00">=</tspan><tspan x="626.38">10.00</tspan><tspan x="658.50" font-style="italic">M</tspan><tspan x="669.12" font-size="8.00" dy="-4.70">3</tspan></text>
<line x1="579.00" y1="150.40" x2="592.90" y2="150.40" stroke="#ff0000" stroke-width="1.2"/>
<text class="lg" y="154.10"><tspan x="599.54" font-style="italic">C</tspan><tspan x="607.84" font-size="8.80" dy="2.00">1</tspan><tspan x="616.52" dy="-2.00">=</tspan><tspan x="626.70">20.00</tspan><tspan x="658.50" font-style="italic">M</tspan><tspan x="669.12" font-size="8.00" dy="-4.70">3</tspan></text>
<clipPath id="c3"><rect x="36.00" y="224.50" width="287.30" height="177.00"/></clipPath>
<path d="M87.69,224.50V401.50M133.67,224.50V401.50M179.65,224.50V401.50M225.64,224.50V401.50M271.62,224.50V401.50M36.00,357.20H323.30M36.00,315.96H323.30M36.00,274.72H323.30" stroke="#ededed" stroke-width="1" fill="none"/>
<g clip-path="url(#c3)" fill="none" stroke-linejoin="round" stroke-linecap="butt">
<path d="M69.80,291.99 L69.95,290.76 L70.07,289.59 L70.17,288.46 L70.24,287.37 L70.31,286.30 L70.36,285.24 L70.41,284.18 L70.46,283.11 L70.51,282.01 L70.58,280.89 L70.66,279.71 L70.75,278.49 L70.88,277.19 L71.03,275.83 L71.21,274.47 L71.43,273.24 L71.67,272.25 L71.94,271.62 L72.24,271.48 L72.57,271.89 L72.92,272.70 L73.26,273.75 L73.59,274.87 L73.90,276.00 L74.19,277.13 L74.46,278.26 L74.72,279.39 L74.97,280.52 L75.20,281.65 L75.42,282.78 L75.63,283.90 L75.83,285.03 L76.03,286.16 L76.22,287.28 L76.40,288.41 L76.58,289.54 L76.76,290.66 L76.94,291.78 L77.12,292.91 L77.30,294.03 L77.48,295.15 L77.67,296.27 L77.86,297.40 L78.06,298.52 L78.26,299.63 L78.47,300.75 L78.68,301.87 L78.90,302.98 L79.13,304.09 L79.36,305.20 L79.61,306.31 L79.86,307.42 L80.11,308.52 L80.38,309.62 L80.65,310.72 L80.93,311.81 L81.22,312.90 L81.52,313.99 L81.83,315.07 L82.15,316.15 L82.48,317.23 L82.82,318.30 L83.17,319.36 L83.54,320.43 L83.91,321.48 L84.30,322.54 L84.70,323.58 L85.11,324.63 L85.53,325.66 L85.97,326.69 L86.41,327.72 L86.88,328.74 L87.35,329.75 L87.85,330.76 L88.35,331.76 L88.87,332.75 L89.41,333.74 L89.96,334.72 L90.53,335.69 L91.11,336.66 L91.71,337.61 L92.32,338.56 L92.95,339.50 L93.60,340.44 L94.26,341.36 L94.93,342.28 L95.62,343.19 L96.32,344.08 L97.03,344.97 L97.76,345.85 L98.50,346.72 L99.25,347.58 L100.02,348.43 L100.79,349.27 L101.58,350.10 L102.38,350.92 L103.19,351.73 L104.01,352.53 L104.84,353.31 L105.69,354.09 L106.54,354.85 L107.40,355.60 L108.27,356.34 L109.14,357.06 L110.03,357.78 L110.92,358.48 L111.83,359.17 L112.74,359.84 L113.65,360.50 L114.58,361.15 L115.51,361.79 L116.45,362.41 L117.39,363.03 L118.34,363.63 L119.30,364.22 L120.26,364.80 L121.23,365.36 L122.21,365.92 L123.19,366.47 L124.17,367.00 L125.16,367.53 L126.16,368.05 L127.16,368.55 L128.17,369.05 L129.18,369.54 L130.20,370.02 L131.22,370.50 L132.24,370.96 L133.27,371.42 L134.30,371.87 L135.34,372.31 L136.38,372.74 L137.42,373.17 L138.47,373.60 L139.51,374.01 L140.57,374.42 L141.62,374.83 L142.68,375.23 L143.74,375.62 L144.80,376.01 L145.87,376.39 L146.93,376.76 L148.00,377.13 L149.08,377.50 L150.15,377.86 L151.23,378.21 L152.31,378.56 L153.39,378.90 L154.47,379.24 L155.56,379.57 L156.64,379.89 L157.73,380.21 L158.82,380.53 L159.92,380.84 L161.01,381.14 L162.11,381.44 L163.20,381.73 L164.30,382.02 L165.40,382.30 L166.50,382.58 L167.61,382.85 L168.71,383.11 L169.81,383.37 L170.92,383.63 L172.03,383.88 L173.14,384.12 L174.25,384.36 L175.36,384.60 L176.47,384.83 L177.58,385.05 L178.69,385.27 L179.80,385.48 L180.92,385.69 L182.03,385.89 L183.14,386.09 L184.26,386.28 L185.38,386.47 L186.49,386.66 L187.61,386.84 L188.72,387.01 L189.84,387.18 L190.96,387.35 L192.08,387.51 L193.20,387.67 L194.32,387.82 L195.44,387.97 L196.56,388.12 L197.68,388.26 L198.80,388.40 L199.92,388.53 L201.04,388.67 L202.16,388.79 L203.29,388.92 L204.41,389.04 L205.53,389.16 L206.66,389.28 L207.78,389.39 L208.91,389.50 L210.03,389.61 L211.15,389.71 L212.28,389.81 L213.41,389.91 L214.53,390.01 L215.66,390.10 L216.78,390.20 L217.91,390.29 L219.04,390.38 L220.16,390.46 L221.29,390.55 L222.42,390.63 L223.55,390.71 L224.67,390.79 L225.80,390.87 L226.93,390.95 L228.06,391.03 L229.19,391.10 L230.32,391.18 L231.45,391.25 L232.57,391.32 L233.70,391.39 L234.83,391.46 L235.96,391.53 L237.09,391.60 L238.22,391.67 L239.35,391.74 L240.48,391.81 L241.61,391.88 L242.74,391.95 L243.87,392.01 L245.00,392.08 L246.13,392.15 L247.26,392.22 L248.39,392.29 L249.52,392.36 L250.65,392.43 L251.78,392.50 L252.91,392.57 L254.04,392.64 L255.17,392.71 L256.30,392.78 L257.43,392.86 L258.56,392.93 L259.69,393.00 L260.82,393.07 L261.95,393.14 L263.08,393.21 L264.21,393.28 L265.34,393.35 L266.47,393.42 L267.60,393.49 L268.73,393.56 L269.86,393.63 L270.99,393.70 L272.12,393.77 L273.25,393.83 L274.38,393.90 L275.51,393.96 L276.64,394.03 L277.77,394.09 L278.90,394.16 L280.03,394.22 L281.16,394.28 L282.29,394.34 L283.42,394.40 L284.55,394.46 L285.68,394.52 L286.81,394.57 L287.94,394.63 L289.07,394.68 L290.20,394.73 L291.33,394.78 L292.46,394.83 L293.59,394.88 L294.72,394.93 L295.85,394.97 L296.98,395.02 L298.11,395.06 L299.25,395.10 L300.38,395.14 L301.51,395.17 L302.64,395.21 L303.77,395.24 L304.90,395.27 L306.03,395.30 L307.16,395.33 L308.29,395.35 L309.42,395.37 L310.55,395.39 L311.69,395.41 L312.82,395.43 L313.95,395.44 L315.08,395.45 L316.21,395.46 L317.34,395.47 L318.47,395.47 L319.60,395.48 L320.74,395.47 L321.87,395.47 L323.00,395.46" stroke="#000" stroke-width="2.0"/>
<path d="M69.01,300.90 L69.06,299.70 L69.13,298.49 L69.21,297.29 L69.29,296.09 L69.39,294.90 L69.49,293.70 L69.59,292.50 L69.70,291.31 L69.80,290.11 L69.91,288.92 L70.02,287.73 L70.12,286.53 L70.22,285.34 L70.32,284.15 L70.41,282.95 L70.49,281.76 L70.55,280.56 L70.61,279.37 L70.67,278.17 L70.72,276.96 L70.78,275.75 L70.84,274.53 L70.92,273.30 L71.01,272.07 L71.12,270.81 L71.26,269.55 L71.42,268.26 L71.63,267.01 L71.90,266.03 L72.28,265.57 L72.76,265.83 L73.21,266.51 L73.61,267.45 L73.97,268.57 L74.30,269.77 L74.61,270.99 L74.92,272.20 L75.21,273.42 L75.49,274.63 L75.76,275.85 L76.02,277.06 L76.27,278.27 L76.52,279.49 L76.75,280.70 L76.98,281.91 L77.21,283.12 L77.42,284.33 L77.64,285.54 L77.84,286.74 L78.05,287.95 L78.25,289.15 L78.45,290.36 L78.65,291.56 L78.85,292.76 L79.04,293.96 L79.24,295.15 L79.44,296.34 L79.64,297.54 L79.84,298.73 L80.04,299.91 L80.25,301.10 L80.46,302.28 L80.68,303.46 L80.90,304.63 L81.12,305.81 L81.36,306.98 L81.60,308.15 L81.85,309.31 L82.11,310.47 L82.37,311.63 L82.65,312.78 L82.94,313.93 L83.23,315.08 L83.54,316.23 L83.87,317.36 L84.20,318.50 L84.55,319.63 L84.91,320.76 L85.29,321.88 L85.69,323.00 L86.10,324.11 L86.52,325.22 L86.97,326.33 L87.43,327.43 L87.90,328.52 L88.39,329.61 L88.90,330.69 L89.42,331.77 L89.96,332.84 L90.51,333.90 L91.08,334.96 L91.66,336.01 L92.26,337.06 L92.87,338.09 L93.49,339.12 L94.13,340.14 L94.79,341.16 L95.46,342.16 L96.14,343.16 L96.84,344.14 L97.55,345.12 L98.27,346.09 L99.00,347.05 L99.75,348.00 L100.52,348.95 L101.29,349.88 L102.08,350.80 L102.88,351.71 L103.69,352.60 L104.52,353.49 L105.35,354.36 L106.20,355.22 L107.06,356.07 L107.94,356.91 L108.82,357.73 L109.72,358.53 L110.63,359.32 L111.55,360.10 L112.48,360.86 L113.42,361.60 L114.38,362.33 L115.34,363.04 L116.32,363.73 L117.31,364.41 L118.31,365.06 L119.32,365.70 L120.34,366.32 L121.37,366.92 L122.41,367.51 L123.45,368.07 L124.51,368.63 L125.58,369.17 L126.65,369.69 L127.73,370.21 L128.81,370.71 L129.90,371.20 L131.00,371.68 L132.10,372.16 L133.20,372.62 L134.31,373.08 L135.42,373.54 L136.54,373.98 L137.65,374.42 L138.77,374.86 L139.90,375.28 L141.03,375.70 L142.16,376.12 L143.29,376.52 L144.42,376.93 L145.56,377.32 L146.70,377.71 L147.84,378.09 L148.99,378.46 L150.14,378.83 L151.29,379.19 L152.44,379.55 L153.59,379.90 L154.75,380.24 L155.90,380.58 L157.06,380.91 L158.22,381.23 L159.38,381.55 L160.55,381.86 L161.71,382.17 L162.88,382.46 L164.05,382.76 L165.22,383.04 L166.39,383.32 L167.56,383.59 L168.73,383.86 L169.90,384.12 L171.07,384.38 L172.25,384.62 L173.42,384.87 L174.60,385.10 L175.78,385.33 L176.96,385.56 L178.14,385.78 L179.32,386.00 L180.50,386.21 L181.68,386.41 L182.86,386.61 L184.04,386.80 L185.23,386.99 L186.41,387.18 L187.60,387.36 L188.78,387.53 L189.97,387.71 L191.16,387.87 L192.34,388.04 L193.53,388.19 L194.72,388.35 L195.91,388.50 L197.10,388.65 L198.29,388.79 L199.48,388.93 L200.67,389.06 L201.87,389.20 L203.06,389.32 L204.25,389.45 L205.45,389.57 L206.64,389.69 L207.84,389.81 L209.03,389.92 L210.23,390.03 L211.42,390.14 L212.62,390.25 L213.82,390.35 L215.01,390.45 L216.21,390.55 L217.41,390.64 L218.61,390.74 L219.80,390.83 L221.00,390.92 L222.20,391.01 L223.40,391.10 L224.60,391.18 L225.80,391.27 L227.00,391.35 L228.20,391.43 L229.40,391.51 L230.60,391.59 L231.80,391.67 L233.00,391.74 L234.20,391.82 L235.40,391.89 L236.60,391.97 L237.80,392.04 L239.00,392.12 L240.20,392.19 L241.40,392.26 L242.60,392.34 L243.80,392.41 L245.00,392.48 L246.20,392.56 L247.40,392.63 L248.60,392.71 L249.80,392.78 L251.00,392.86 L252.20,392.93 L253.40,393.01 L254.60,393.08 L255.80,393.16 L257.00,393.23 L258.20,393.31 L259.39,393.38 L260.59,393.46 L261.79,393.54 L262.99,393.61 L264.19,393.69 L265.39,393.76 L266.59,393.83 L267.79,393.91 L268.99,393.98 L270.18,394.05 L271.38,394.12 L272.58,394.19 L273.78,394.27 L274.98,394.33 L276.18,394.40 L277.38,394.47 L278.58,394.54 L279.78,394.60 L280.97,394.67 L282.17,394.73 L283.37,394.80 L284.57,394.86 L285.77,394.92 L286.97,394.98 L288.17,395.03 L289.37,395.09 L290.57,395.14 L291.77,395.20 L292.97,395.25 L294.17,395.30 L295.37,395.35 L296.57,395.39 L297.77,395.44 L298.97,395.48 L300.17,395.52 L301.37,395.56 L302.57,395.60 L303.77,395.63 L304.97,395.66 L306.17,395.70 L307.37,395.72 L308.57,395.75 L309.77,395.77 L310.98,395.80 L312.18,395.81 L313.38,395.83 L314.58,395.84 L315.78,395.86 L316.99,395.86 L318.19,395.87 L319.39,395.87 L320.60,395.87 L321.80,395.87 L323.00,395.87" stroke="#0000ff" stroke-width="2.0"/>
<path d="M117.56,373.78 L117.70,373.01 L117.81,372.24 L117.90,371.46 L117.97,370.68 L118.03,369.89 L118.08,369.10 L118.12,368.31 L118.14,367.51 L118.17,366.71 L118.18,365.91 L118.20,365.10 L118.22,364.29 L118.24,363.49 L118.27,362.68 L118.31,361.87 L118.36,361.06 L118.42,360.25 L118.50,359.44 L118.59,358.63 L118.71,357.82 L118.84,357.02 L119.01,356.22 L119.20,355.41 L119.42,354.62 L119.67,353.82 L119.96,353.03 L120.29,352.25 L120.65,351.51 L121.07,350.86 L121.53,350.33 L122.05,349.97 L122.62,349.81 L123.26,349.88 L123.91,350.12 L124.53,350.44 L125.12,350.84 L125.68,351.29 L126.21,351.80 L126.72,352.36 L127.20,352.96 L127.67,353.60 L128.13,354.26 L128.58,354.95 L129.02,355.66 L129.46,356.38 L129.91,357.10 L130.35,357.83 L130.81,358.55 L131.28,359.25 L131.77,359.94 L132.27,360.60 L132.78,361.25 L133.32,361.88 L133.86,362.49 L134.42,363.08 L134.99,363.66 L135.57,364.23 L136.16,364.77 L136.77,365.31 L137.38,365.83 L138.00,366.34 L138.63,366.84 L139.26,367.32 L139.90,367.80 L140.55,368.27 L141.20,368.72 L141.86,369.17 L142.52,369.61 L143.18,370.05 L143.85,370.47 L144.52,370.89 L145.19,371.30 L145.87,371.70 L146.55,372.10 L147.24,372.48 L147.93,372.86 L148.62,373.24 L149.31,373.60 L150.01,373.96 L150.71,374.31 L151.42,374.66 L152.13,374.99 L152.84,375.32 L153.55,375.65 L154.27,375.97 L154.99,376.28 L155.71,376.58 L156.44,376.88 L157.16,377.17 L157.89,377.46 L158.63,377.74 L159.36,378.02 L160.10,378.29 L160.84,378.55 L161.59,378.81 L162.33,379.06 L163.08,379.31 L163.83,379.55 L164.58,379.79 L165.34,380.02 L166.10,380.25 L166.85,380.47 L167.62,380.69 L168.38,380.90 L169.14,381.11 L169.91,381.31 L170.68,381.51 L171.45,381.70 L172.22,381.89 L172.99,382.08 L173.77,382.26 L174.55,382.44 L175.32,382.61 L176.10,382.78 L176.88,382.95 L177.67,383.11 L178.45,383.27 L179.23,383.43 L180.02,383.58 L180.81,383.73 L181.60,383.88 L182.38,384.02 L183.17,384.16 L183.97,384.30 L184.76,384.44 L185.55,384.57 L186.34,384.70 L187.14,384.83 L187.93,384.95 L188.73,385.08 L189.52,385.20 L190.32,385.32 L191.12,385.43 L191.91,385.55 L192.71,385.66 L193.51,385.77 L194.31,385.88 L195.10,385.99 L195.90,386.10 L196.70,386.21 L197.50,386.31 L198.30,386.41 L199.09,386.52 L199.89,386.62 L200.69,386.72 L201.49,386.82 L202.28,386.92 L203.08,387.02 L203.88,387.11 L204.67,387.21 L205.47,387.31 L206.27,387.40 L207.06,387.50 L207.86,387.59 L208.66,387.68 L209.45,387.77 L210.25,387.86 L211.04,387.95 L211.84,388.04 L212.63,388.13 L213.43,388.22 L214.22,388.31 L215.01,388.39 L215.81,388.48 L216.60,388.56 L217.40,388.65 L218.19,388.73 L218.98,388.82 L219.78,388.90 L220.57,388.98 L221.36,389.06 L222.16,389.14 L222.95,389.22 L223.74,389.30 L224.54,389.37 L225.33,389.45 L226.12,389.53 L226.91,389.60 L227.71,389.68 L228.50,389.75 L229.29,389.82 L230.08,389.90 L230.88,389.97 L231.67,390.04 L232.46,390.11 L233.25,390.18 L234.04,390.25 L234.83,390.32 L235.63,390.39 L236.42,390.45 L237.21,390.52 L238.00,390.59 L238.79,390.65 L239.58,390.72 L240.37,390.78 L241.17,390.84 L241.96,390.91 L242.75,390.97 L243.54,391.03 L244.33,391.09 L245.12,391.15 L245.91,391.21 L246.70,391.27 L247.49,391.33 L248.28,391.38 L249.08,391.44 L249.87,391.50 L250.66,391.55 L251.45,391.61 L252.24,391.66 L253.03,391.72 L253.82,391.77 L254.61,391.82 L255.40,391.87 L256.19,391.93 L256.98,391.98 L257.78,392.03 L258.57,392.08 L259.36,392.13 L260.15,392.17 L260.94,392.22 L261.73,392.27 L262.52,392.32 L263.31,392.36 L264.11,392.41 L264.90,392.46 L265.69,392.50 L266.48,392.54 L267.27,392.59 L268.06,392.63 L268.85,392.67 L269.65,392.72 L270.44,392.76 L271.23,392.80 L272.02,392.84 L272.82,392.88 L273.61,392.92 L274.40,392.96 L275.19,393.00 L275.98,393.03 L276.78,393.07 L277.57,393.11 L278.36,393.15 L279.16,393.18 L279.95,393.22 L280.74,393.25 L281.54,393.29 L282.33,393.32 L283.12,393.36 L283.92,393.39 L284.71,393.42 L285.51,393.45 L286.30,393.49 L287.09,393.52 L287.89,393.55 L288.68,393.58 L289.48,393.61 L290.27,393.64 L291.07,393.67 L291.86,393.70 L292.66,393.72 L293.45,393.75 L294.25,393.78 L295.05,393.81 L295.84,393.83 L296.64,393.86 L297.44,393.89 L298.23,393.91 L299.03,393.94 L299.83,393.96 L300.62,393.99 L301.42,394.01 L302.22,394.03 L303.02,394.06 L303.82,394.08 L304.62,394.10 L305.41,394.12 L306.21,394.14 L307.01,394.17 L307.81,394.19 L308.61,394.21 L309.41,394.23 L310.21,394.25 L311.01,394.27 L311.81,394.28 L312.61,394.30 L313.42,394.32 L314.22,394.34 L315.02,394.36 L315.82,394.38 L316.62,394.39 L317.43,394.41 L318.23,394.43 L319.03,394.44 L319.84,394.46 L320.64,394.47 L321.44,394.49 L322.25,394.50 L323.05,394.52" stroke="#ff0000" stroke-width="2.0"/>
<path d="M117.96,379.31 L118.11,378.46 L118.24,377.62 L118.35,376.79 L118.44,375.98 L118.51,375.16 L118.57,374.36 L118.62,373.56 L118.65,372.77 L118.67,371.98 L118.69,371.20 L118.70,370.42 L118.71,369.64 L118.72,368.86 L118.73,368.08 L118.74,367.30 L118.76,366.51 L118.79,365.72 L118.82,364.93 L118.87,364.13 L118.92,363.33 L119.00,362.52 L119.09,361.70 L119.20,360.87 L119.34,360.04 L119.49,359.19 L119.67,358.33 L119.88,357.45 L120.12,356.57 L120.39,355.71 L120.69,354.87 L121.03,354.07 L121.39,353.33 L121.79,352.66 L122.22,352.08 L122.70,351.61 L123.20,351.26 L123.75,351.04 L124.33,350.98 L124.95,351.07 L125.58,351.30 L126.22,351.65 L126.85,352.10 L127.45,352.63 L128.01,353.24 L128.53,353.89 L129.02,354.59 L129.49,355.32 L129.94,356.06 L130.39,356.80 L130.85,357.53 L131.31,358.26 L131.77,358.97 L132.24,359.66 L132.72,360.35 L133.21,361.02 L133.71,361.68 L134.21,362.33 L134.72,362.97 L135.24,363.60 L135.77,364.21 L136.30,364.81 L136.85,365.40 L137.40,365.98 L137.96,366.54 L138.54,367.09 L139.12,367.63 L139.71,368.16 L140.31,368.68 L140.92,369.18 L141.54,369.68 L142.17,370.16 L142.80,370.63 L143.45,371.09 L144.11,371.54 L144.77,371.97 L145.44,372.40 L146.12,372.82 L146.81,373.22 L147.50,373.62 L148.20,374.01 L148.91,374.39 L149.62,374.75 L150.34,375.11 L151.07,375.46 L151.80,375.81 L152.53,376.14 L153.27,376.47 L154.02,376.78 L154.77,377.09 L155.53,377.40 L156.28,377.69 L157.05,377.98 L157.81,378.26 L158.58,378.53 L159.35,378.80 L160.13,379.06 L160.91,379.32 L161.69,379.57 L162.47,379.81 L163.25,380.05 L164.03,380.28 L164.82,380.51 L165.61,380.74 L166.39,380.95 L167.18,381.17 L167.97,381.38 L168.76,381.58 L169.54,381.79 L170.33,381.98 L171.12,382.18 L171.91,382.37 L172.70,382.55 L173.49,382.73 L174.28,382.91 L175.07,383.09 L175.86,383.26 L176.65,383.43 L177.45,383.59 L178.24,383.75 L179.03,383.91 L179.82,384.07 L180.61,384.22 L181.41,384.37 L182.20,384.51 L182.99,384.66 L183.79,384.80 L184.58,384.93 L185.38,385.07 L186.17,385.20 L186.97,385.33 L187.76,385.46 L188.56,385.59 L189.35,385.71 L190.15,385.84 L190.94,385.96 L191.74,386.08 L192.54,386.19 L193.33,386.31 L194.13,386.42 L194.93,386.53 L195.72,386.64 L196.52,386.75 L197.32,386.86 L198.12,386.97 L198.92,387.07 L199.71,387.18 L200.51,387.28 L201.31,387.39 L202.11,387.49 L202.91,387.59 L203.71,387.69 L204.51,387.79 L205.31,387.89 L206.11,387.98 L206.91,388.08 L207.71,388.18 L208.51,388.27 L209.31,388.37 L210.11,388.46 L210.91,388.55 L211.71,388.64 L212.51,388.73 L213.32,388.83 L214.12,388.91 L214.92,389.00 L215.72,389.09 L216.52,389.18 L217.33,389.26 L218.13,389.35 L218.93,389.43 L219.73,389.52 L220.54,389.60 L221.34,389.68 L222.14,389.76 L222.95,389.84 L223.75,389.92 L224.55,390.00 L225.36,390.08 L226.16,390.16 L226.97,390.23 L227.77,390.31 L228.57,390.38 L229.38,390.46 L230.18,390.53 L230.99,390.61 L231.79,390.68 L232.60,390.75 L233.40,390.82 L234.21,390.89 L235.01,390.96 L235.82,391.03 L236.62,391.09 L237.43,391.16 L238.23,391.23 L239.04,391.29 L239.85,391.36 L240.65,391.42 L241.46,391.49 L242.26,391.55 L243.07,391.61 L243.88,391.67 L244.68,391.74 L245.49,391.80 L246.30,391.86 L247.10,391.91 L247.91,391.97 L248.72,392.03 L249.52,392.09 L250.33,392.14 L251.14,392.20 L251.94,392.25 L252.75,392.31 L253.56,392.36 L254.37,392.42 L255.17,392.47 L255.98,392.52 L256.79,392.57 L257.60,392.62 L258.40,392.67 L259.21,392.72 L260.02,392.77 L260.83,392.82 L261.63,392.87 L262.44,392.92 L263.25,392.96 L264.06,393.01 L264.86,393.05 L265.67,393.10 L266.48,393.14 L267.29,393.19 L268.10,393.23 L268.90,393.27 L269.71,393.32 L270.52,393.36 L271.33,393.40 L272.14,393.44 L272.94,393.48 L273.75,393.52 L274.56,393.56 L275.37,393.60 L276.18,393.64 L276.98,393.67 L277.79,393.71 L278.60,393.75 L279.41,393.78 L280.22,393.82 L281.02,393.85 L281.83,393.89 L282.64,393.92 L283.45,393.96 L284.26,393.99 L285.06,394.02 L285.87,394.06 L286.68,394.09 L287.49,394.12 L288.30,394.15 L289.10,394.18 L289.91,394.21 L290.72,394.24 L291.53,394.27 L292.34,394.30 L293.14,394.33 L293.95,394.36 L294.76,394.38 L295.57,394.41 L296.37,394.44 L297.18,394.46 L297.99,394.49 L298.80,394.52 L299.60,394.54 L300.41,394.57 L301.22,394.59 L302.03,394.61 L302.83,394.64 L303.64,394.66 L304.45,394.68 L305.25,394.71 L306.06,394.73 L306.87,394.75 L307.67,394.77 L308.48,394.79 L309.29,394.81 L310.09,394.84 L310.90,394.86 L311.71,394.88 L312.51,394.90 L313.32,394.91 L314.12,394.93 L314.93,394.95 L315.74,394.97 L316.54,394.99 L317.35,395.01 L318.15,395.02 L318.96,395.04 L319.76,395.06 L320.57,395.07 L321.37,395.09 L322.18,395.11 L322.98,395.12" stroke="#00ff00" stroke-width="2.0"/>
</g>
<path d="M35.50,224.50H323.80M35.50,401.50H323.80M36.00,224.50V401.50M323.30,224.50V401.50" stroke="#6e6e6e" stroke-width="1.0" fill="none"/>
<path d="M41.70,401.50v-2.60M41.70,224.50v2.60M87.69,401.50v-2.60M87.69,224.50v2.60M133.67,401.50v-2.60M133.67,224.50v2.60M179.65,401.50v-2.60M179.65,224.50v2.60M225.64,401.50v-2.60M225.64,224.50v2.60M271.62,401.50v-2.60M271.62,224.50v2.60M317.61,401.50v-2.60M317.61,224.50v2.60M50.90,401.50v-1.50M50.90,224.50v1.50M60.09,401.50v-1.50M60.09,224.50v1.50M69.29,401.50v-1.50M69.29,224.50v1.50M78.49,401.50v-1.50M78.49,224.50v1.50M96.88,401.50v-1.50M96.88,224.50v1.50M106.08,401.50v-1.50M106.08,224.50v1.50M115.28,401.50v-1.50M115.28,224.50v1.50M124.47,401.50v-1.50M124.47,224.50v1.50M142.87,401.50v-1.50M142.87,224.50v1.50M152.06,401.50v-1.50M152.06,224.50v1.50M161.26,401.50v-1.50M161.26,224.50v1.50M170.46,401.50v-1.50M170.46,224.50v1.50M188.85,401.50v-1.50M188.85,224.50v1.50M198.05,401.50v-1.50M198.05,224.50v1.50M207.25,401.50v-1.50M207.25,224.50v1.50M216.44,401.50v-1.50M216.44,224.50v1.50M234.84,401.50v-1.50M234.84,224.50v1.50M244.03,401.50v-1.50M244.03,224.50v1.50M253.23,401.50v-1.50M253.23,224.50v1.50M262.43,401.50v-1.50M262.43,224.50v1.50M280.82,401.50v-1.50M280.82,224.50v1.50M290.02,401.50v-1.50M290.02,224.50v1.50M299.22,401.50v-1.50M299.22,224.50v1.50M308.41,401.50v-1.50M308.41,224.50v1.50M36.00,398.44h2.60M323.30,398.44h-2.60M36.00,357.20h2.60M323.30,357.20h-2.60M36.00,315.96h2.60M323.30,315.96h-2.60M36.00,274.72h2.60M323.30,274.72h-2.60M36.00,233.48h2.60M323.30,233.48h-2.60M36.00,388.13h1.50M323.30,388.13h-1.50M36.00,377.82h1.50M323.30,377.82h-1.50M36.00,367.51h1.50M323.30,367.51h-1.50M36.00,346.89h1.50M323.30,346.89h-1.50M36.00,336.58h1.50M323.30,336.58h-1.50M36.00,326.27h1.50M323.30,326.27h-1.50M36.00,305.65h1.50M323.30,305.65h-1.50M36.00,295.34h1.50M323.30,295.34h-1.50M36.00,285.03h1.50M323.30,285.03h-1.50M36.00,264.41h1.50M323.30,264.41h-1.50M36.00,254.10h1.50M323.30,254.10h-1.50M36.00,243.79h1.50M323.30,243.79h-1.50" stroke="#333" stroke-width="0.9" fill="none"/>
<text x="41.70" y="412.50" text-anchor="middle" font-size="11.1">1.0</text>
<text x="87.69" y="412.50" text-anchor="middle" font-size="11.1">1.5</text>
<text x="133.67" y="412.50" text-anchor="middle" font-size="11.1">2.0</text>
<text x="179.65" y="412.50" text-anchor="middle" font-size="11.1">2.5</text>
<text x="225.64" y="412.50" text-anchor="middle" font-size="11.1">3.0</text>
<text x="271.62" y="412.50" text-anchor="middle" font-size="11.1">3.5</text>
<text x="317.61" y="412.50" text-anchor="middle" font-size="11.1">4.0</text>
<text x="33.40" y="400.89" text-anchor="end" font-size="11.1">0.00</text>
<text x="33.40" y="359.65" text-anchor="end" font-size="11.1">0.02</text>
<text x="33.40" y="318.41" text-anchor="end" font-size="11.1">0.04</text>
<text x="33.40" y="277.17" text-anchor="end" font-size="11.1">0.06</text>
<text x="33.40" y="235.93" text-anchor="end" font-size="11.1">0.08</text>
<text x="179.40" y="428.00" text-anchor="middle" font-size="11.1">NUT charge (l)</text>
<text transform="translate(7.20,313.10) rotate(-90)" text-anchor="middle" font-size="11.1">Temperature (<tspan font-style="italic">T</tspan><tspan font-style="italic" font-size="8.9" dx="0.6" dy="2.2">H</tspan><tspan dx="0.5" dy="-2.2">)</tspan></text>
<rect x="157.20" y="276.50" width="159.60" height="90.90" rx="3.6" ry="3.6" fill="none" stroke="#262626" stroke-width="1.3"/>
<line x1="160.80" y1="288.20" x2="175.10" y2="288.20" stroke="#000" stroke-width="1.2"/>
<text class="lg" y="291.40"><tspan x="181.54" font-style="italic">C</tspan><tspan x="189.84" font-size="8.80" dy="2.00">1</tspan><tspan x="198.42" dy="-2.00">=</tspan><tspan x="208.08">10.00</tspan><tspan x="240.70" font-style="italic">M</tspan><tspan x="251.32" font-size="8.00" dy="-4.70">3</tspan><tspan x="255.92" dy="4.70">,</tspan><tspan x="263.04" font-style="italic">C</tspan><tspan x="271.34" font-size="8.80" dy="2.00">2</tspan><tspan x="280.42" dy="-2.00">=</tspan><tspan x="290.65">0.10</tspan></text>
<line x1="160.80" y1="311.23" x2="175.10" y2="311.23" stroke="#0000ff" stroke-width="1.2"/>
<text class="lg" y="314.43"><tspan x="181.54" font-style="italic">C</tspan><tspan x="189.84" font-size="8.80" dy="2.00">1</tspan><tspan x="198.42" dy="-2.00">=</tspan><tspan x="208.08">10.00</tspan><tspan x="240.70" font-style="italic">M</tspan><tspan x="251.32" font-size="8.00" dy="-4.70">3</tspan><tspan x="255.92" dy="4.70">,</tspan><tspan x="263.04" font-style="italic">C</tspan><tspan x="271.34" font-size="8.80" dy="2.00">2</tspan><tspan x="280.42" dy="-2.00">=</tspan><tspan x="290.65">0.50</tspan></text>
<line x1="160.80" y1="334.26" x2="175.10" y2="334.26" stroke="#ff0000" stroke-width="1.2"/>
<text class="lg" y="337.46"><tspan x="181.54" font-style="italic">C</tspan><tspan x="189.84" font-size="8.80" dy="2.00">1</tspan><tspan x="198.42" dy="-2.00">=</tspan><tspan x="208.40">20.00</tspan><tspan x="240.70" font-style="italic">M</tspan><tspan x="251.32" font-size="8.00" dy="-4.70">3</tspan><tspan x="255.92" dy="4.70">,</tspan><tspan x="263.04" font-style="italic">C</tspan><tspan x="271.34" font-size="8.80" dy="2.00">2</tspan><tspan x="280.42" dy="-2.00">=</tspan><tspan x="290.65">0.10</tspan></text>
<line x1="160.80" y1="357.29" x2="175.10" y2="357.29" stroke="#00ff00" stroke-width="1.2"/>
<text class="lg" y="360.49"><tspan x="181.54" font-style="italic">C</tspan><tspan x="189.84" font-size="8.80" dy="2.00">1</tspan><tspan x="198.42" dy="-2.00">=</tspan><tspan x="208.40">20.00</tspan><tspan x="240.70" font-style="italic">M</tspan><tspan x="251.32" font-size="8.00" dy="-4.70">3</tspan><tspan x="255.92" dy="4.70">,</tspan><tspan x="263.04" font-style="italic">C</tspan><tspan x="271.34" font-size="8.80" dy="2.00">2</tspan><tspan x="280.42" dy="-2.00">=</tspan><tspan x="290.65">0.50</tspan></text>
<clipPath id="c4"><rect x="407.63" y="230.90" width="276.77" height="170.45"/></clipPath>
<path d="M431.04,230.90V401.35M466.52,230.90V401.35M502.00,230.90V401.35M537.48,230.90V401.35M572.96,230.90V401.35M608.44,230.90V401.35M643.92,230.90V401.35M407.63,358.78H684.40M407.63,319.08H684.40M407.63,279.38H684.40" stroke="#ededed" stroke-width="1" fill="none"/>
<g clip-path="url(#c4)" fill="none" stroke-linejoin="round" stroke-linecap="butt">
<path d="M406.15,321.98 L406.63,322.86 L407.10,323.74 L407.57,324.63 L408.03,325.53 L408.49,326.43 L408.95,327.33 L409.40,328.24 L409.85,329.16 L410.30,330.08 L410.75,330.99 L411.20,331.91 L411.65,332.83 L412.11,333.75 L412.57,334.67 L413.04,335.58 L413.52,336.50 L414.00,337.40 L414.49,338.31 L414.99,339.21 L415.51,340.10 L416.04,340.98 L416.58,341.86 L417.13,342.73 L417.70,343.58 L418.28,344.43 L418.89,345.27 L419.51,346.09 L420.15,346.90 L420.81,347.70 L421.48,348.49 L422.18,349.26 L422.88,350.02 L423.61,350.76 L424.35,351.49 L425.10,352.20 L425.87,352.90 L426.65,353.58 L427.45,354.25 L428.26,354.89 L429.08,355.53 L429.91,356.14 L430.75,356.74 L431.61,357.31 L432.47,357.87 L433.35,358.41 L434.23,358.93 L435.13,359.43 L436.03,359.91 L436.94,360.37 L437.85,360.81 L438.78,361.23 L439.70,361.62 L440.64,362.00 L441.58,362.35 L442.53,362.68 L443.48,362.99 L444.44,363.28 L445.40,363.54 L446.36,363.79 L447.34,364.02 L448.31,364.23 L449.29,364.42 L450.27,364.60 L451.26,364.75 L452.25,364.89 L453.25,365.02 L454.25,365.12 L455.25,365.21 L456.25,365.29 L457.26,365.35 L458.27,365.40 L459.28,365.43 L460.30,365.45 L461.32,365.46 L462.34,365.45 L463.36,365.43 L464.38,365.40 L465.40,365.36 L466.43,365.31 L467.46,365.24 L468.48,365.17 L469.51,365.09 L470.54,365.00 L471.57,364.90 L472.60,364.79 L473.63,364.67 L474.66,364.55 L475.69,364.42 L476.72,364.28 L477.75,364.14 L478.78,363.99 L479.81,363.84 L480.83,363.68 L481.86,363.51 L482.88,363.35 L483.90,363.18 L484.92,363.00 L485.94,362.83 L486.96,362.65 L487.98,362.46 L489.00,362.27 L490.01,362.08 L491.02,361.89 L492.03,361.69 L493.04,361.49 L494.05,361.28 L495.06,361.07 L496.07,360.86 L497.07,360.65 L498.08,360.43 L499.08,360.21 L500.08,359.98 L501.08,359.75 L502.08,359.52 L503.08,359.29 L504.08,359.05 L505.08,358.81 L506.07,358.57 L507.07,358.32 L508.06,358.07 L509.05,357.82 L510.04,357.57 L511.03,357.31 L512.02,357.05 L513.01,356.78 L514.00,356.52 L514.98,356.25 L515.97,355.98 L516.95,355.71 L517.94,355.43 L518.92,355.15 L519.90,354.87 L520.88,354.59 L521.86,354.30 L522.84,354.01 L523.82,353.72 L524.80,353.43 L525.77,353.14 L526.75,352.84 L527.72,352.54 L528.70,352.24 L529.67,351.93 L530.65,351.63 L531.62,351.32 L532.59,351.01 L533.56,350.70 L534.53,350.39 L535.50,350.07 L536.47,349.75 L537.44,349.43 L538.41,349.11 L539.37,348.79 L540.34,348.46 L541.30,348.14 L542.27,347.81 L543.24,347.48 L544.20,347.15 L545.16,346.82 L546.13,346.48 L547.09,346.15 L548.05,345.81 L549.01,345.47 L549.98,345.13 L550.94,344.79 L551.90,344.45 L552.86,344.10 L553.82,343.76 L554.78,343.41 L555.74,343.06 L556.69,342.71 L557.65,342.36 L558.61,342.01 L559.57,341.66 L560.53,341.31 L561.48,340.95 L562.44,340.60 L563.40,340.24 L564.36,339.89 L565.31,339.53 L566.27,339.17 L567.22,338.81 L568.18,338.45 L569.14,338.09 L570.09,337.73 L571.05,337.37 L572.00,337.01 L572.96,336.65 L573.91,336.28 L574.87,335.92 L575.82,335.55 L576.78,335.19 L577.73,334.82 L578.69,334.46 L579.64,334.09 L580.60,333.73 L581.55,333.36 L582.51,333.00 L583.46,332.63 L584.42,332.26 L585.37,331.90 L586.33,331.53 L587.28,331.16 L588.24,330.80 L589.20,330.43 L590.15,330.06 L591.11,329.70 L592.07,329.33 L593.02,328.97 L593.98,328.60 L594.94,328.23 L595.89,327.87 L596.85,327.50 L597.81,327.14 L598.76,326.77 L599.72,326.40 L600.68,326.04 L601.64,325.67 L602.59,325.31 L603.55,324.94 L604.51,324.57 L605.46,324.21 L606.42,323.84 L607.38,323.47 L608.34,323.11 L609.29,322.74 L610.25,322.37 L611.21,322.00 L612.17,321.64 L613.12,321.27 L614.08,320.90 L615.04,320.53 L616.00,320.16 L616.95,319.79 L617.91,319.42 L618.87,319.05 L619.82,318.68 L620.78,318.31 L621.73,317.94 L622.69,317.57 L623.65,317.20 L624.60,316.83 L625.56,316.45 L626.51,316.08 L627.47,315.71 L628.42,315.33 L629.38,314.96 L630.33,314.58 L631.28,314.21 L632.24,313.83 L633.19,313.45 L634.14,313.08 L635.10,312.70 L636.05,312.32 L637.00,311.94 L637.95,311.56 L638.91,311.18 L639.86,310.80 L640.81,310.42 L641.76,310.03 L642.71,309.65 L643.66,309.26 L644.61,308.88 L645.56,308.49 L646.50,308.11 L647.45,307.72 L648.40,307.33 L649.35,306.94 L650.29,306.55 L651.24,306.16 L652.18,305.77 L653.13,305.38 L654.07,304.98 L655.02,304.59 L655.96,304.19 L656.90,303.80 L657.85,303.40 L658.79,303.00 L659.73,302.60 L660.67,302.20 L661.61,301.80 L662.55,301.40 L663.49,300.99 L664.43,300.59 L665.36,300.18 L666.30,299.77 L667.24,299.37 L668.17,298.96 L669.11,298.55 L670.04,298.13 L670.98,297.72 L671.91,297.31 L672.84,296.89 L673.77,296.47 L674.70,296.06 L675.63,295.64 L676.56,295.22 L677.49,294.79 L678.42,294.37 L679.35,293.95" stroke="#0000ff" stroke-width="2.0"/>
<path d="M405.69,304.35 L405.93,305.37 L406.17,306.39 L406.42,307.42 L406.67,308.44 L406.94,309.46 L407.21,310.49 L407.49,311.51 L407.78,312.53 L408.07,313.56 L408.37,314.58 L408.68,315.60 L409.00,316.62 L409.33,317.63 L409.66,318.65 L410.00,319.66 L410.35,320.67 L410.71,321.68 L411.08,322.69 L411.45,323.69 L411.84,324.69 L412.23,325.69 L412.63,326.69 L413.04,327.68 L413.46,328.67 L413.88,329.65 L414.31,330.63 L414.76,331.61 L415.21,332.58 L415.67,333.55 L416.14,334.51 L416.62,335.47 L417.10,336.42 L417.60,337.36 L418.10,338.31 L418.61,339.24 L419.14,340.17 L419.67,341.10 L420.21,342.01 L420.76,342.92 L421.32,343.83 L421.89,344.73 L422.46,345.62 L423.05,346.50 L423.65,347.38 L424.25,348.24 L424.87,349.11 L425.49,349.96 L426.12,350.80 L426.77,351.64 L427.42,352.47 L428.08,353.29 L428.75,354.10 L429.43,354.91 L430.11,355.71 L430.81,356.49 L431.51,357.27 L432.23,358.04 L432.95,358.81 L433.68,359.56 L434.42,360.31 L435.16,361.04 L435.92,361.77 L436.68,362.49 L437.45,363.20 L438.23,363.90 L439.01,364.60 L439.80,365.28 L440.61,365.95 L441.41,366.62 L442.23,367.27 L443.05,367.92 L443.88,368.55 L444.72,369.18 L445.56,369.80 L446.41,370.41 L447.27,371.00 L448.14,371.59 L449.01,372.17 L449.88,372.74 L450.77,373.30 L451.66,373.84 L452.56,374.38 L453.46,374.91 L454.37,375.43 L455.28,375.93 L456.21,376.43 L457.13,376.92 L458.07,377.39 L459.00,377.86 L459.95,378.31 L460.90,378.76 L461.85,379.19 L462.81,379.62 L463.78,380.03 L464.75,380.44 L465.73,380.83 L466.71,381.22 L467.69,381.60 L468.68,381.96 L469.67,382.32 L470.67,382.68 L471.67,383.02 L472.67,383.35 L473.68,383.68 L474.69,384.00 L475.71,384.31 L476.73,384.61 L477.75,384.90 L478.77,385.19 L479.80,385.47 L480.83,385.75 L481.87,386.01 L482.90,386.27 L483.94,386.53 L484.98,386.77 L486.02,387.01 L487.06,387.25 L488.11,387.47 L489.16,387.70 L490.21,387.91 L491.26,388.12 L492.31,388.33 L493.36,388.53 L494.42,388.73 L495.47,388.92 L496.53,389.10 L497.58,389.28 L498.64,389.46 L499.70,389.63 L500.75,389.80 L501.81,389.97 L502.87,390.13 L503.93,390.28 L504.98,390.44 L506.04,390.59 L507.10,390.73 L508.15,390.87 L509.21,391.01 L510.27,391.15 L511.32,391.28 L512.38,391.41 L513.44,391.54 L514.49,391.66 L515.55,391.78 L516.61,391.90 L517.66,392.01 L518.72,392.12 L519.77,392.23 L520.83,392.34 L521.89,392.44 L522.94,392.54 L524.00,392.64 L525.05,392.74 L526.11,392.83 L527.17,392.92 L528.22,393.01 L529.28,393.10 L530.33,393.18 L531.39,393.26 L532.44,393.34 L533.50,393.42 L534.55,393.50 L535.61,393.57 L536.67,393.65 L537.72,393.72 L538.78,393.79 L539.83,393.86 L540.89,393.92 L541.94,393.99 L543.00,394.05 L544.05,394.12 L545.11,394.18 L546.16,394.24 L547.22,394.30 L548.28,394.36 L549.33,394.42 L550.39,394.47 L551.44,394.53 L552.50,394.58 L553.55,394.64 L554.61,394.69 L555.66,394.74 L556.72,394.80 L557.77,394.85 L558.83,394.90 L559.89,394.95 L560.94,395.00 L562.00,395.05 L563.05,395.10 L564.11,395.15 L565.16,395.20 L566.22,395.25 L567.27,395.30 L568.33,395.35 L569.39,395.39 L570.44,395.44 L571.50,395.49 L572.55,395.53 L573.61,395.58 L574.67,395.62 L575.72,395.66 L576.78,395.71 L577.83,395.75 L578.89,395.79 L579.94,395.84 L581.00,395.88 L582.06,395.92 L583.11,395.96 L584.17,396.00 L585.23,396.04 L586.28,396.08 L587.34,396.12 L588.39,396.15 L589.45,396.19 L590.51,396.23 L591.56,396.27 L592.62,396.30 L593.68,396.34 L594.73,396.38 L595.79,396.41 L596.85,396.45 L597.90,396.48 L598.96,396.51 L600.02,396.55 L601.07,396.58 L602.13,396.61 L603.19,396.64 L604.24,396.68 L605.30,396.71 L606.36,396.74 L607.41,396.77 L608.47,396.80 L609.53,396.83 L610.58,396.86 L611.64,396.89 L612.70,396.91 L613.76,396.94 L614.81,396.97 L615.87,397.00 L616.93,397.02 L617.99,397.05 L619.04,397.08 L620.10,397.10 L621.16,397.13 L622.22,397.15 L623.27,397.17 L624.33,397.20 L625.39,397.22 L626.45,397.24 L627.50,397.27 L628.56,397.29 L629.62,397.31 L630.68,397.33 L631.74,397.35 L632.80,397.37 L633.85,397.39 L634.91,397.41 L635.97,397.43 L637.03,397.45 L638.09,397.47 L639.15,397.49 L640.20,397.51 L641.26,397.52 L642.32,397.54 L643.38,397.56 L644.44,397.57 L645.50,397.59 L646.56,397.61 L647.62,397.62 L648.68,397.64 L649.74,397.65 L650.79,397.67 L651.85,397.68 L652.91,397.69 L653.97,397.71 L655.03,397.72 L656.09,397.73 L657.15,397.74 L658.21,397.76 L659.27,397.77 L660.33,397.78 L661.39,397.79 L662.45,397.80 L663.51,397.81 L664.57,397.82 L665.63,397.83 L666.69,397.84 L667.75,397.85 L668.81,397.85 L669.87,397.86 L670.94,397.87 L672.00,397.88 L673.06,397.88 L674.12,397.89 L675.18,397.90 L676.24,397.90 L677.30,397.91 L678.36,397.92 L679.42,397.92" stroke="#ff0000" stroke-width="2.0"/>
<path d="M406.30,316.45 L406.70,317.35 L407.10,318.26 L407.50,319.17 L407.90,320.10 L408.29,321.02 L408.69,321.96 L409.09,322.90 L409.49,323.84 L409.90,324.79 L410.30,325.74 L410.71,326.69 L411.13,327.65 L411.55,328.60 L411.98,329.56 L412.41,330.51 L412.86,331.46 L413.31,332.41 L413.77,333.35 L414.24,334.29 L414.71,335.23 L415.21,336.16 L415.71,337.08 L416.22,338.00 L416.75,338.90 L417.29,339.80 L417.85,340.69 L418.42,341.57 L419.00,342.44 L419.61,343.29 L420.23,344.14 L420.87,344.96 L421.52,345.78 L422.19,346.58 L422.87,347.37 L423.57,348.14 L424.29,348.90 L425.01,349.64 L425.76,350.37 L426.51,351.08 L427.28,351.78 L428.06,352.45 L428.86,353.11 L429.67,353.76 L430.48,354.38 L431.31,354.99 L432.15,355.57 L433.01,356.14 L433.87,356.69 L434.74,357.22 L435.62,357.72 L436.51,358.21 L437.41,358.68 L438.31,359.12 L439.23,359.55 L440.15,359.95 L441.08,360.33 L442.02,360.68 L442.96,361.02 L443.91,361.33 L444.87,361.62 L445.83,361.90 L446.80,362.15 L447.77,362.38 L448.75,362.60 L449.74,362.80 L450.73,362.98 L451.72,363.14 L452.72,363.28 L453.73,363.41 L454.73,363.52 L455.75,363.62 L456.76,363.70 L457.78,363.77 L458.81,363.82 L459.83,363.86 L460.86,363.88 L461.89,363.90 L462.93,363.89 L463.97,363.88 L465.00,363.86 L466.04,363.82 L467.09,363.78 L468.13,363.72 L469.18,363.65 L470.22,363.58 L471.27,363.49 L472.32,363.40 L473.36,363.30 L474.41,363.19 L475.46,363.07 L476.51,362.95 L477.55,362.82 L478.60,362.68 L479.65,362.54 L480.69,362.40 L481.73,362.25 L482.77,362.09 L483.81,361.93 L484.85,361.77 L485.89,361.61 L486.92,361.44 L487.96,361.26 L488.99,361.09 L490.02,360.91 L491.05,360.72 L492.07,360.53 L493.10,360.34 L494.12,360.14 L495.15,359.95 L496.17,359.74 L497.19,359.54 L498.21,359.33 L499.22,359.12 L500.24,358.90 L501.25,358.68 L502.27,358.46 L503.28,358.23 L504.29,358.00 L505.30,357.77 L506.31,357.53 L507.31,357.29 L508.32,357.05 L509.32,356.81 L510.33,356.56 L511.33,356.31 L512.33,356.06 L513.33,355.80 L514.33,355.54 L515.33,355.28 L516.32,355.01 L517.32,354.75 L518.31,354.47 L519.31,354.20 L520.30,353.93 L521.29,353.65 L522.28,353.37 L523.27,353.08 L524.26,352.80 L525.25,352.51 L526.23,352.22 L527.22,351.93 L528.20,351.63 L529.19,351.33 L530.17,351.03 L531.15,350.73 L532.14,350.43 L533.12,350.12 L534.10,349.81 L535.08,349.50 L536.05,349.19 L537.03,348.87 L538.01,348.56 L538.99,348.24 L539.96,347.92 L540.94,347.60 L541.91,347.27 L542.89,346.94 L543.86,346.62 L544.83,346.29 L545.80,345.96 L546.77,345.62 L547.75,345.29 L548.72,344.95 L549.69,344.62 L550.66,344.28 L551.63,343.94 L552.59,343.59 L553.56,343.25 L554.53,342.91 L555.50,342.56 L556.47,342.21 L557.43,341.87 L558.40,341.52 L559.36,341.16 L560.33,340.81 L561.30,340.46 L562.26,340.11 L563.23,339.75 L564.19,339.39 L565.16,339.04 L566.12,338.68 L567.08,338.32 L568.05,337.96 L569.01,337.60 L569.98,337.24 L570.94,336.88 L571.90,336.51 L572.87,336.15 L573.83,335.79 L574.79,335.42 L575.76,335.06 L576.72,334.69 L577.68,334.33 L578.65,333.96 L579.61,333.59 L580.57,333.23 L581.54,332.86 L582.50,332.49 L583.47,332.12 L584.43,331.75 L585.39,331.38 L586.36,331.02 L587.32,330.65 L588.29,330.28 L589.25,329.91 L590.22,329.54 L591.18,329.17 L592.15,328.80 L593.11,328.43 L594.08,328.07 L595.04,327.70 L596.01,327.33 L596.98,326.96 L597.94,326.59 L598.91,326.22 L599.88,325.85 L600.84,325.48 L601.81,325.11 L602.78,324.74 L603.75,324.37 L604.71,324.00 L605.68,323.63 L606.65,323.26 L607.62,322.89 L608.58,322.52 L609.55,322.15 L610.52,321.78 L611.48,321.41 L612.45,321.03 L613.42,320.66 L614.39,320.29 L615.35,319.92 L616.32,319.54 L617.29,319.17 L618.25,318.80 L619.22,318.42 L620.19,318.05 L621.15,317.67 L622.12,317.30 L623.09,316.92 L624.05,316.55 L625.02,316.17 L625.98,315.79 L626.95,315.42 L627.91,315.04 L628.88,314.66 L629.84,314.28 L630.81,313.90 L631.77,313.52 L632.74,313.14 L633.70,312.76 L634.66,312.38 L635.63,312.00 L636.59,311.62 L637.55,311.23 L638.51,310.85 L639.47,310.46 L640.43,310.08 L641.39,309.69 L642.35,309.31 L643.31,308.92 L644.27,308.53 L645.23,308.14 L646.19,307.75 L647.15,307.36 L648.10,306.97 L649.06,306.58 L650.02,306.19 L650.97,305.80 L651.93,305.40 L652.88,305.01 L653.84,304.61 L654.79,304.22 L655.74,303.82 L656.70,303.42 L657.65,303.02 L658.60,302.62 L659.55,302.22 L660.50,301.82 L661.45,301.42 L662.39,301.01 L663.34,300.61 L664.29,300.20 L665.24,299.80 L666.18,299.39 L667.13,298.98 L668.07,298.57 L669.01,298.16 L669.96,297.75 L670.90,297.34 L671.84,296.92 L672.78,296.51 L673.72,296.09 L674.65,295.68 L675.59,295.26 L676.53,294.84 L677.46,294.42 L678.40,294.00 L679.33,293.57" stroke="#00ff00" stroke-width="2.0"/>
</g>
<path d="M407.13,230.90H684.90M407.13,401.35H684.90M407.63,230.90V401.35M684.40,230.90V401.35" stroke="#6e6e6e" stroke-width="1.0" fill="none"/>
<path d="M431.04,401.35v-2.60M431.04,230.90v2.60M466.52,401.35v-2.60M466.52,230.90v2.60M502.00,401.35v-2.60M502.00,230.90v2.60M537.48,401.35v-2.60M537.48,230.90v2.60M572.96,401.35v-2.60M572.96,230.90v2.60M608.44,401.35v-2.60M608.44,230.90v2.60M643.92,401.35v-2.60M643.92,230.90v2.60M679.40,401.35v-2.60M679.40,230.90v2.60M413.30,401.35v-1.50M413.30,230.90v1.50M422.17,401.35v-1.50M422.17,230.90v1.50M439.91,401.35v-1.50M439.91,230.90v1.50M448.78,401.35v-1.50M448.78,230.90v1.50M457.65,401.35v-1.50M457.65,230.90v1.50M475.39,401.35v-1.50M475.39,230.90v1.50M484.26,401.35v-1.50M484.26,230.90v1.50M493.13,401.35v-1.50M493.13,230.90v1.50M510.87,401.35v-1.50M510.87,230.90v1.50M519.74,401.35v-1.50M519.74,230.90v1.50M528.61,401.35v-1.50M528.61,230.90v1.50M546.35,401.35v-1.50M546.35,230.90v1.50M555.22,401.35v-1.50M555.22,230.90v1.50M564.09,401.35v-1.50M564.09,230.90v1.50M581.83,401.35v-1.50M581.83,230.90v1.50M590.70,401.35v-1.50M590.70,230.90v1.50M599.57,401.35v-1.50M599.57,230.90v1.50M617.31,401.35v-1.50M617.31,230.90v1.50M626.18,401.35v-1.50M626.18,230.90v1.50M635.05,401.35v-1.50M635.05,230.90v1.50M652.79,401.35v-1.50M652.79,230.90v1.50M661.66,401.35v-1.50M661.66,230.90v1.50M670.53,401.35v-1.50M670.53,230.90v1.50M407.63,398.48h2.60M684.40,398.48h-2.60M407.63,358.78h2.60M684.40,358.78h-2.60M407.63,319.08h2.60M684.40,319.08h-2.60M407.63,279.38h2.60M684.40,279.38h-2.60M407.63,239.68h2.60M684.40,239.68h-2.60M407.63,390.54h1.50M684.40,390.54h-1.50M407.63,382.60h1.50M684.40,382.60h-1.50M407.63,374.66h1.50M684.40,374.66h-1.50M407.63,366.72h1.50M684.40,366.72h-1.50M407.63,350.84h1.50M684.40,350.84h-1.50M407.63,342.90h1.50M684.40,342.90h-1.50M407.63,334.96h1.50M684.40,334.96h-1.50M407.63,327.02h1.50M684.40,327.02h-1.50M407.63,311.14h1.50M684.40,311.14h-1.50M407.63,303.20h1.50M684.40,303.20h-1.50M407.63,295.26h1.50M684.40,295.26h-1.50M407.63,287.32h1.50M684.40,287.32h-1.50M407.63,271.44h1.50M684.40,271.44h-1.50M407.63,263.50h1.50M684.40,263.50h-1.50M407.63,255.56h1.50M684.40,255.56h-1.50M407.63,247.62h1.50M684.40,247.62h-1.50M407.63,231.74h1.50M684.40,231.74h-1.50" stroke="#333" stroke-width="0.9" fill="none"/>
<text x="431.04" y="411.90" text-anchor="middle" font-size="11.1">6</text>
<text x="466.52" y="411.90" text-anchor="middle" font-size="11.1">8</text>
<text x="502.00" y="411.90" text-anchor="middle" font-size="11.1">10</text>
<text x="537.48" y="411.90" text-anchor="middle" font-size="11.1">12</text>
<text x="572.96" y="411.90" text-anchor="middle" font-size="11.1">14</text>
<text x="608.44" y="411.90" text-anchor="middle" font-size="11.1">16</text>
<text x="643.92" y="411.90" text-anchor="middle" font-size="11.1">18</text>
<text x="679.40" y="411.90" text-anchor="middle" font-size="11.1">20</text>
<text x="405.00" y="400.93" text-anchor="end" font-size="11.1">0.0000</text>
<text x="405.00" y="361.23" text-anchor="end" font-size="11.1">0.0005</text>
<text x="405.00" y="321.53" text-anchor="end" font-size="11.1">0.0010</text>
<text x="405.00" y="281.83" text-anchor="end" font-size="11.1">0.0015</text>
<text x="405.00" y="242.13" text-anchor="end" font-size="11.1">0.0020</text>
<text x="545.60" y="427.70" text-anchor="middle" font-size="11.1">NUT charge (l)</text>
<text transform="translate(369.00,316.60) rotate(-90)" text-anchor="middle" font-size="11.1">Temperature (<tspan font-style="italic">T</tspan><tspan font-style="italic" font-size="8.9" dx="0.6" dy="2.2">H</tspan><tspan dx="0.5" dy="-2.2">)</tspan></text>
<rect x="422.40" y="236.50" width="159.10" height="91.10" rx="3.6" ry="3.6" fill="none" stroke="#262626" stroke-width="1.3"/>
<line x1="425.80" y1="248.20" x2="439.90" y2="248.20" stroke="#000" stroke-width="1.2"/>
<text class="lg" y="251.50"><tspan x="446.34" font-style="italic">C</tspan><tspan x="454.64" font-size="8.80" dy="2.00">1</tspan><tspan x="463.22" dy="-2.00">=</tspan><tspan x="472.88">10.00</tspan><tspan x="505.50" font-style="italic">M</tspan><tspan x="516.12" font-size="8.00" dy="-4.70">3</tspan><tspan x="520.72" dy="4.70">,</tspan><tspan x="527.84" font-style="italic">C</tspan><tspan x="536.14" font-size="8.80" dy="2.00">2</tspan><tspan x="545.22" dy="-2.00">=</tspan><tspan x="555.45">0.10</tspan></text>
<line x1="425.80" y1="271.30" x2="439.90" y2="271.30" stroke="#0000ff" stroke-width="1.2"/>
<text class="lg" y="274.60"><tspan x="446.34" font-style="italic">C</tspan><tspan x="454.64" font-size="8.80" dy="2.00">1</tspan><tspan x="463.22" dy="-2.00">=</tspan><tspan x="472.88">10.00</tspan><tspan x="505.50" font-style="italic">M</tspan><tspan x="516.12" font-size="8.00" dy="-4.70">3</tspan><tspan x="520.72" dy="4.70">,</tspan><tspan x="527.84" font-style="italic">C</tspan><tspan x="536.14" font-size="8.80" dy="2.00">2</tspan><tspan x="545.22" dy="-2.00">=</tspan><tspan x="555.45">0.50</tspan></text>
<line x1="425.80" y1="294.40" x2="439.90" y2="294.40" stroke="#ff0000" stroke-width="1.2"/>
<text class="lg" y="297.70"><tspan x="446.34" font-style="italic">C</tspan><tspan x="454.64" font-size="8.80" dy="2.00">1</tspan><tspan x="463.22" dy="-2.00">=</tspan><tspan x="473.20">20.00</tspan><tspan x="505.50" font-style="italic">M</tspan><tspan x="516.12" font-size="8.00" dy="-4.70">3</tspan><tspan x="520.72" dy="4.70">,</tspan><tspan x="527.84" font-style="italic">C</tspan><tspan x="536.14" font-size="8.80" dy="2.00">2</tspan><tspan x="545.22" dy="-2.00">=</tspan><tspan x="555.45">0.10</tspan></text>
<line x1="425.80" y1="317.50" x2="439.90" y2="317.50" stroke="#00ff00" stroke-width="1.2"/>
<text class="lg" y="320.80"><tspan x="446.34" font-style="italic">C</tspan><tspan x="454.64" font-size="8.80" dy="2.00">1</tspan><tspan x="463.22" dy="-2.00">=</tspan><tspan x="473.20">20.00</tspan><tspan x="505.50" font-style="italic">M</tspan><tspan x="516.12" font-size="8.00" dy="-4.70">3</tspan><tspan x="520.72" dy="4.70">,</tspan><tspan x="527.84" font-style="italic">C</tspan><tspan x="536.14" font-size="8.80" dy="2.00">2</tspan><tspan x="545.22" dy="-2.00">=</tspan><tspan x="555.45">0.50</tspan></text>
</svg>
</body></html>
